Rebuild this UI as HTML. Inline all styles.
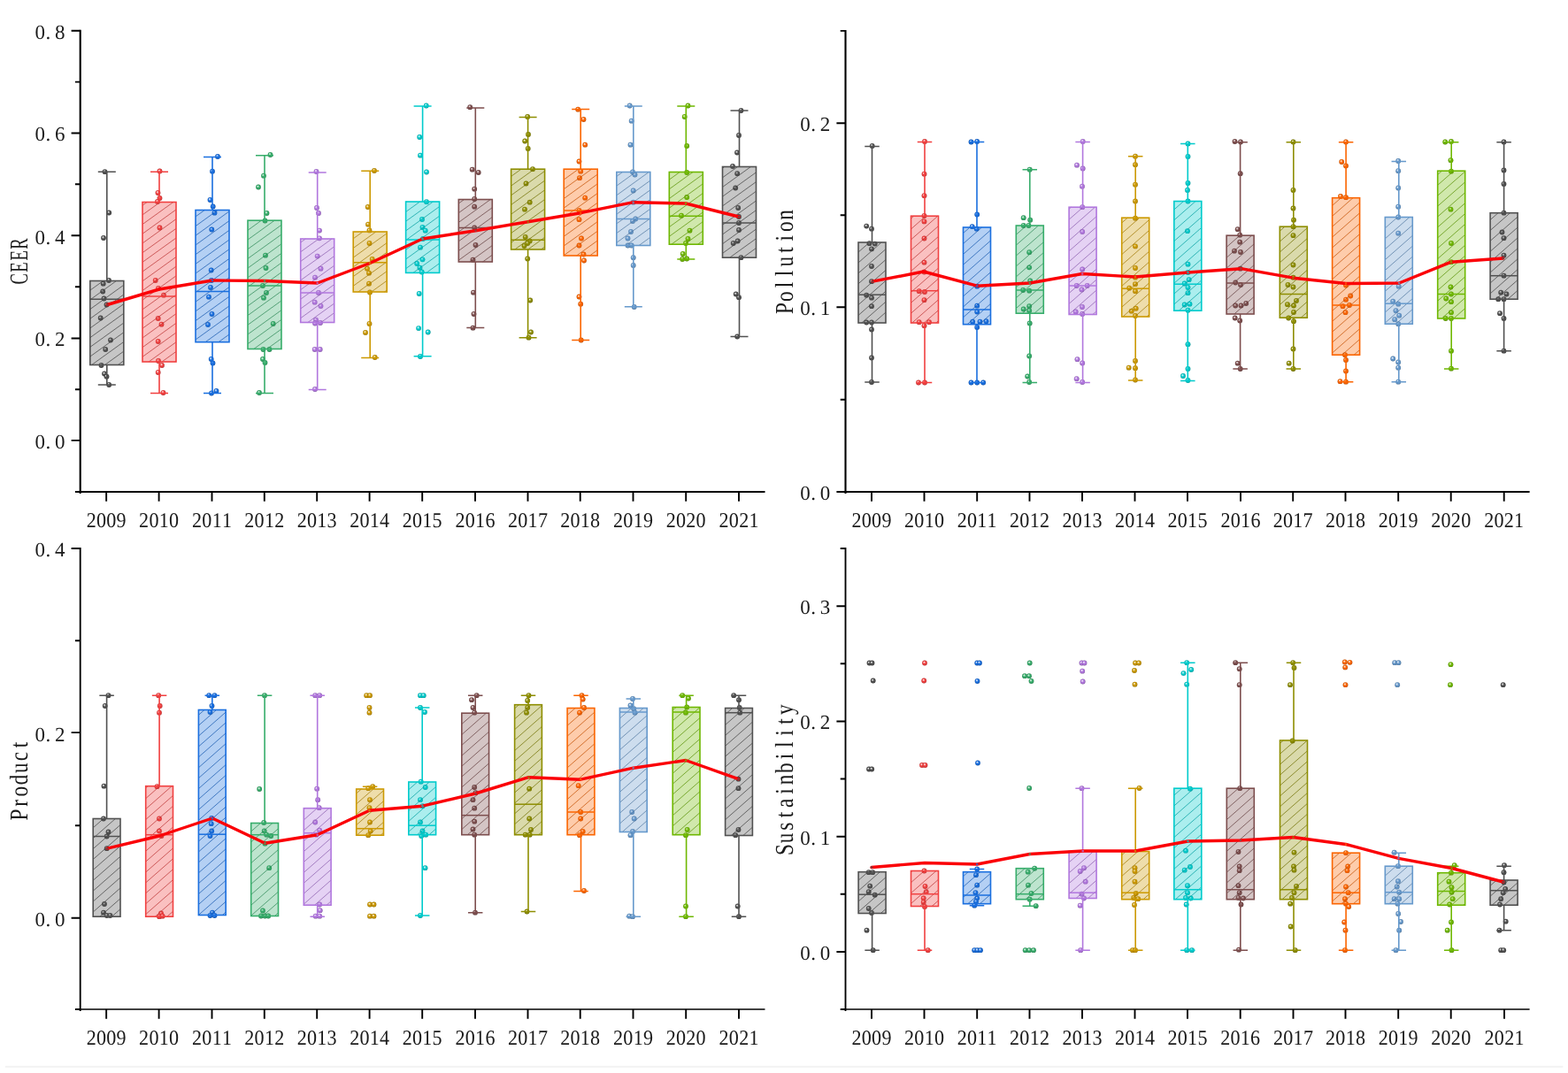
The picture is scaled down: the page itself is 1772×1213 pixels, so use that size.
<!DOCTYPE html>
<html lang="en"><head><meta charset="utf-8"><title>Box plots 2009-2021</title>
<style>html,body{margin:0;padding:0;background:#fff}body{width:1772px;height:1213px;overflow:hidden}svg{display:block}text{font-family:"Liberation Serif",serif;fill:#1a1a1a;text-rendering:geometricPrecision}</style>
</head><body>
<svg width="1772" height="1213" viewBox="0 0 1772 1213">
<defs>
<radialGradient id="g0" cx="0.5" cy="0.5" r="0.52" fx="0.36" fy="0.3"><stop offset="0" stop-color="#ffffff"/><stop offset="0.2" stop-color="#c2c2c2"/><stop offset="0.5" stop-color="#515151"/><stop offset="0.85" stop-color="#484848"/><stop offset="1" stop-color="#383838"/></radialGradient>
<radialGradient id="g1" cx="0.5" cy="0.5" r="0.52" fx="0.36" fy="0.3"><stop offset="0" stop-color="#ffffff"/><stop offset="0.2" stop-color="#fabcbc"/><stop offset="0.5" stop-color="#F14040"/><stop offset="0.85" stop-color="#d83939"/><stop offset="1" stop-color="#a82c2c"/></radialGradient>
<radialGradient id="g2" cx="0.5" cy="0.5" r="0.52" fx="0.36" fy="0.3"><stop offset="0" stop-color="#ffffff"/><stop offset="0.2" stop-color="#aeccf3"/><stop offset="0.5" stop-color="#1A6FDF"/><stop offset="0.85" stop-color="#1763c8"/><stop offset="1" stop-color="#124d9c"/></radialGradient>
<radialGradient id="g3" cx="0.5" cy="0.5" r="0.52" fx="0.36" fy="0.3"><stop offset="0" stop-color="#ffffff"/><stop offset="0.2" stop-color="#b9e2cb"/><stop offset="0.5" stop-color="#37AD6B"/><stop offset="0.85" stop-color="#319b60"/><stop offset="1" stop-color="#26794a"/></radialGradient>
<radialGradient id="g4" cx="0.5" cy="0.5" r="0.52" fx="0.36" fy="0.3"><stop offset="0" stop-color="#ffffff"/><stop offset="0.2" stop-color="#e3cff3"/><stop offset="0.5" stop-color="#B177DE"/><stop offset="0.85" stop-color="#9f6bc7"/><stop offset="1" stop-color="#7b539b"/></radialGradient>
<radialGradient id="g5" cx="0.5" cy="0.5" r="0.52" fx="0.36" fy="0.3"><stop offset="0" stop-color="#ffffff"/><stop offset="0.2" stop-color="#eddba5"/><stop offset="0.5" stop-color="#CC9900"/><stop offset="0.85" stop-color="#b78900"/><stop offset="1" stop-color="#8e6b00"/></radialGradient>
<radialGradient id="g6" cx="0.5" cy="0.5" r="0.52" fx="0.36" fy="0.3"><stop offset="0" stop-color="#ffffff"/><stop offset="0.2" stop-color="#a5eced"/><stop offset="0.5" stop-color="#00CBCC"/><stop offset="0.85" stop-color="#00b6b7"/><stop offset="1" stop-color="#008e8e"/></radialGradient>
<radialGradient id="g7" cx="0.5" cy="0.5" r="0.52" fx="0.36" fy="0.3"><stop offset="0" stop-color="#ffffff"/><stop offset="0.2" stop-color="#d1c1c1"/><stop offset="0.5" stop-color="#7D4E4E"/><stop offset="0.85" stop-color="#704646"/><stop offset="1" stop-color="#573636"/></radialGradient>
<radialGradient id="g8" cx="0.5" cy="0.5" r="0.52" fx="0.36" fy="0.3"><stop offset="0" stop-color="#ffffff"/><stop offset="0.2" stop-color="#d7d7a5"/><stop offset="0.5" stop-color="#8E8E00"/><stop offset="0.85" stop-color="#7f7f00"/><stop offset="1" stop-color="#636300"/></radialGradient>
<radialGradient id="g9" cx="0.5" cy="0.5" r="0.52" fx="0.36" fy="0.3"><stop offset="0" stop-color="#ffffff"/><stop offset="0.2" stop-color="#fdc9a6"/><stop offset="0.5" stop-color="#FB6501"/><stop offset="0.85" stop-color="#e15a00"/><stop offset="1" stop-color="#af4600"/></radialGradient>
<radialGradient id="g10" cx="0.5" cy="0.5" r="0.52" fx="0.36" fy="0.3"><stop offset="0" stop-color="#ffffff"/><stop offset="0.2" stop-color="#c9dbed"/><stop offset="0.5" stop-color="#6699CC"/><stop offset="0.85" stop-color="#5b89b7"/><stop offset="1" stop-color="#476b8e"/></radialGradient>
<radialGradient id="g11" cx="0.5" cy="0.5" r="0.52" fx="0.36" fy="0.3"><stop offset="0" stop-color="#ffffff"/><stop offset="0.2" stop-color="#cce6a6"/><stop offset="0.5" stop-color="#6FB802"/><stop offset="0.85" stop-color="#63a501"/><stop offset="1" stop-color="#4d8001"/></radialGradient>
</defs>
<rect width="1772" height="1213" fill="#ffffff"/>
<rect x="5.8" y="1204.9" width="1760.6" height="2" fill="#f3f3f3"/>
<g id="panel1">
<g fill="url(#g0)"><circle cx="118.5" cy="194.2" r="2.9"/><circle cx="123.2" cy="240.5" r="2.9"/><circle cx="117" cy="269" r="2.9"/><circle cx="116.7" cy="320.7" r="2.9"/><circle cx="123" cy="317" r="2.9"/><circle cx="116.2" cy="329.5" r="2.9"/><circle cx="117.5" cy="337.5" r="2.9"/><circle cx="120.5" cy="344.5" r="2.9"/><circle cx="113.7" cy="359.5" r="2.9"/><circle cx="125" cy="384.5" r="2.9"/><circle cx="119.2" cy="395" r="2.9"/><circle cx="114.5" cy="413" r="2.9"/><circle cx="118" cy="422.5" r="2.9"/><circle cx="120.5" cy="425.7" r="2.9"/><circle cx="123.2" cy="435" r="2.9"/></g>
<g fill="url(#g1)"><circle cx="180.5" cy="193.5" r="2.9"/><circle cx="178.5" cy="218" r="2.9"/><circle cx="180.5" cy="224" r="2.9"/><circle cx="178" cy="228" r="2.9"/><circle cx="180.5" cy="257.5" r="2.9"/><circle cx="175.7" cy="317" r="2.9"/><circle cx="179" cy="326" r="2.9"/><circle cx="185" cy="333.7" r="2.9"/><circle cx="178.7" cy="360" r="2.9"/><circle cx="182.5" cy="366.7" r="2.9"/><circle cx="178.7" cy="386" r="2.9"/><circle cx="179" cy="408" r="2.9"/><circle cx="183" cy="413" r="2.9"/><circle cx="178.7" cy="421" r="2.9"/><circle cx="184.5" cy="444" r="2.9"/></g>
<g fill="url(#g2)"><circle cx="246" cy="177" r="2.9"/><circle cx="240" cy="193.7" r="2.9"/><circle cx="237.5" cy="226" r="2.9"/><circle cx="240.7" cy="233.5" r="2.9"/><circle cx="242.5" cy="240.7" r="2.9"/><circle cx="239.3" cy="259.5" r="2.9"/><circle cx="238.7" cy="305.5" r="2.9"/><circle cx="239" cy="317" r="2.9"/><circle cx="238" cy="325" r="2.9"/><circle cx="236" cy="335.7" r="2.9"/><circle cx="239.5" cy="355" r="2.9"/><circle cx="235" cy="367" r="2.9"/><circle cx="238.7" cy="406" r="2.9"/><circle cx="240.5" cy="410.5" r="2.9"/><circle cx="239" cy="444.5" r="2.9"/><circle cx="244.5" cy="442" r="2.9"/></g>
<g fill="url(#g3)"><circle cx="305.5" cy="175" r="2.9"/><circle cx="298" cy="198.7" r="2.9"/><circle cx="292" cy="211.5" r="2.9"/><circle cx="301.5" cy="241" r="2.9"/><circle cx="299.5" cy="249.5" r="2.9"/><circle cx="300" cy="288.7" r="2.9"/><circle cx="300.5" cy="303" r="2.9"/><circle cx="297" cy="323" r="2.9"/><circle cx="301" cy="331" r="2.9"/><circle cx="298" cy="336.7" r="2.9"/><circle cx="308.7" cy="366" r="2.9"/><circle cx="297.5" cy="395" r="2.9"/><circle cx="304.5" cy="395" r="2.9"/><circle cx="297" cy="406" r="2.9"/><circle cx="299.5" cy="410" r="2.9"/><circle cx="293" cy="444" r="2.9"/></g>
<g fill="url(#g4)"><circle cx="357.5" cy="194" r="2.9"/><circle cx="358" cy="235" r="2.9"/><circle cx="360" cy="241" r="2.9"/><circle cx="361" cy="260.6" r="2.9"/><circle cx="361" cy="269.3" r="2.9"/><circle cx="358.7" cy="289.6" r="2.9"/><circle cx="362.5" cy="303.7" r="2.9"/><circle cx="356" cy="313.7" r="2.9"/><circle cx="360" cy="331" r="2.9"/><circle cx="355.7" cy="341.7" r="2.9"/><circle cx="362.5" cy="346" r="2.9"/><circle cx="357" cy="361.7" r="2.9"/><circle cx="356" cy="365.5" r="2.9"/><circle cx="362" cy="365" r="2.9"/><circle cx="355.7" cy="395" r="2.9"/><circle cx="361.7" cy="395" r="2.9"/><circle cx="356" cy="440" r="2.9"/></g>
<g fill="url(#g5)"><circle cx="423" cy="193" r="2.9"/><circle cx="415.7" cy="234" r="2.9"/><circle cx="416" cy="253.7" r="2.9"/><circle cx="417.5" cy="260.4" r="2.9"/><circle cx="417.5" cy="275" r="2.9"/><circle cx="420.7" cy="293" r="2.9"/><circle cx="415" cy="303.7" r="2.9"/><circle cx="417" cy="308.7" r="2.9"/><circle cx="417" cy="320.7" r="2.9"/><circle cx="418" cy="330.5" r="2.9"/><circle cx="417.5" cy="366" r="2.9"/><circle cx="413" cy="376" r="2.9"/><circle cx="423.7" cy="404" r="2.9"/></g>
<g fill="url(#g6)"><circle cx="481.7" cy="119.5" r="2.9"/><circle cx="474.2" cy="155" r="2.9"/><circle cx="475" cy="175.7" r="2.9"/><circle cx="482" cy="194.5" r="2.9"/><circle cx="482" cy="228.2" r="2.9"/><circle cx="477" cy="248" r="2.9"/><circle cx="477.5" cy="257" r="2.9"/><circle cx="480.7" cy="260.7" r="2.9"/><circle cx="478" cy="270" r="2.9"/><circle cx="475" cy="279.7" r="2.9"/><circle cx="477.5" cy="293.3" r="2.9"/><circle cx="471.2" cy="298" r="2.9"/><circle cx="474.5" cy="302.7" r="2.9"/><circle cx="476.7" cy="307.5" r="2.9"/><circle cx="473.7" cy="332" r="2.9"/><circle cx="473.1" cy="371.1" r="2.9"/><circle cx="483.7" cy="375.5" r="2.9"/><circle cx="475" cy="403" r="2.9"/></g>
<g fill="url(#g7)"><circle cx="531.2" cy="121.2" r="2.9"/><circle cx="533.7" cy="191.7" r="2.9"/><circle cx="540.7" cy="195" r="2.9"/><circle cx="536.2" cy="213.7" r="2.9"/><circle cx="536.2" cy="225" r="2.9"/><circle cx="536.2" cy="233.7" r="2.9"/><circle cx="536.2" cy="257.5" r="2.9"/><circle cx="537.5" cy="277" r="2.9"/><circle cx="534.5" cy="293.7" r="2.9"/><circle cx="535" cy="330.7" r="2.9"/><circle cx="535.5" cy="355" r="2.9"/><circle cx="534.5" cy="370.7" r="2.9"/></g>
<g fill="url(#g8)"><circle cx="596.2" cy="132" r="2.9"/><circle cx="597" cy="152" r="2.9"/><circle cx="593.2" cy="159.5" r="2.9"/><circle cx="596.7" cy="168" r="2.9"/><circle cx="602" cy="191.2" r="2.9"/><circle cx="594.5" cy="207.5" r="2.9"/><circle cx="598.7" cy="228.7" r="2.9"/><circle cx="593" cy="236.7" r="2.9"/><circle cx="593.7" cy="268" r="2.9"/><circle cx="598.7" cy="272.5" r="2.9"/><circle cx="596.2" cy="275" r="2.9"/><circle cx="592.5" cy="278" r="2.9"/><circle cx="596.2" cy="292.5" r="2.9"/><circle cx="599.2" cy="339.5" r="2.9"/><circle cx="600" cy="375.5" r="2.9"/><circle cx="597.5" cy="381.7" r="2.9"/></g>
<g fill="url(#g9)"><circle cx="653.2" cy="123.7" r="2.9"/><circle cx="659.5" cy="135" r="2.9"/><circle cx="661.2" cy="163.7" r="2.9"/><circle cx="654.5" cy="182.5" r="2.9"/><circle cx="656.2" cy="193.7" r="2.9"/><circle cx="655" cy="201.2" r="2.9"/><circle cx="661.2" cy="223.7" r="2.9"/><circle cx="654.5" cy="238" r="2.9"/><circle cx="654.5" cy="248.2" r="2.9"/><circle cx="657" cy="269.5" r="2.9"/><circle cx="654.5" cy="277.5" r="2.9"/><circle cx="659.5" cy="287.5" r="2.9"/><circle cx="660" cy="294.5" r="2.9"/><circle cx="654.5" cy="335.5" r="2.9"/><circle cx="656.2" cy="343.7" r="2.9"/><circle cx="656.7" cy="384.5" r="2.9"/></g>
<g fill="url(#g10)"><circle cx="711.7" cy="119.5" r="2.9"/><circle cx="713.7" cy="136.7" r="2.9"/><circle cx="712.5" cy="163.7" r="2.9"/><circle cx="715" cy="194.5" r="2.9"/><circle cx="717.5" cy="197.5" r="2.9"/><circle cx="715.7" cy="215.5" r="2.9"/><circle cx="715.7" cy="228.7" r="2.9"/><circle cx="718.2" cy="247.5" r="2.9"/><circle cx="715" cy="250" r="2.9"/><circle cx="713" cy="262" r="2.9"/><circle cx="709.5" cy="269.5" r="2.9"/><circle cx="709.5" cy="277.5" r="2.9"/><circle cx="713.7" cy="277.5" r="2.9"/><circle cx="715.7" cy="291.2" r="2.9"/><circle cx="715.7" cy="300" r="2.9"/><circle cx="716.7" cy="347" r="2.9"/></g>
<g fill="url(#g11)"><circle cx="777.5" cy="119.5" r="2.9"/><circle cx="773.7" cy="132" r="2.9"/><circle cx="776.2" cy="165" r="2.9"/><circle cx="776.2" cy="195" r="2.9"/><circle cx="776.2" cy="223" r="2.9"/><circle cx="770" cy="243.7" r="2.9"/><circle cx="779.5" cy="260.7" r="2.9"/><circle cx="777.5" cy="270" r="2.9"/><circle cx="775" cy="275" r="2.9"/><circle cx="771.7" cy="287" r="2.9"/><circle cx="776.2" cy="292.5" r="2.9"/><circle cx="771.2" cy="293" r="2.9"/></g>
<g fill="url(#g0)"><circle cx="837.5" cy="125" r="2.9"/><circle cx="835" cy="153" r="2.9"/><circle cx="833" cy="172.5" r="2.9"/><circle cx="828" cy="188" r="2.9"/><circle cx="833.2" cy="196.2" r="2.9"/><circle cx="831.2" cy="212.5" r="2.9"/><circle cx="834.2" cy="235" r="2.9"/><circle cx="835" cy="245" r="2.9"/><circle cx="835" cy="252" r="2.9"/><circle cx="835" cy="260" r="2.9"/><circle cx="833.7" cy="272.5" r="2.9"/><circle cx="828.7" cy="275" r="2.9"/><circle cx="837.5" cy="291.2" r="2.9"/><circle cx="831.7" cy="332.5" r="2.9"/><circle cx="835" cy="336.2" r="2.9"/><circle cx="833.2" cy="380.5" r="2.9"/></g>
<g stroke="#515151" fill="none"><path d="M120.8 317.5V194.2M110.8 194.2H130.8" stroke-width="1.6"/><path d="M120.8 412.5V435M110.8 435H130.8" stroke-width="1.6"/><rect x="101.8" y="317.5" width="38" height="95" fill="#515151" fill-opacity="0.33" stroke="none"/><path d="M101.8 328.2L116.66 317.5M101.8 338.9L131.52 317.5M101.8 349.6L139.8 322.24M101.8 360.3L139.8 332.94M101.8 371L139.8 343.64M101.8 381.7L139.8 354.34M101.8 392.4L139.8 365.04M101.8 403.1L139.8 375.74M103.61 412.5L139.8 386.44M118.47 412.5L139.8 397.14M133.33 412.5L139.8 407.84" stroke="#3f3f3f" stroke-width="0.8" stroke-opacity="0.9"/><rect x="101.8" y="317.5" width="38" height="95" stroke-width="1.6"/><path d="M101.8 338.2H139.8" stroke-width="1.5"/></g>
<g stroke="#F14040" fill="none"><path d="M180 228.5V194.2M170 194.2H190" stroke-width="1.6"/><path d="M180 409V444.5M170 444.5H190" stroke-width="1.6"/><rect x="161" y="228.5" width="38" height="180.5" fill="#F14040" fill-opacity="0.33" stroke="none"/><path d="M161 232.2L166.14 228.5M161 242.9L181 228.5M161 253.6L195.86 228.5M161 264.3L199 236.94M161 275L199 247.64M161 285.7L199 258.34M161 296.4L199 269.04M161 307.1L199 279.74M161 317.8L199 290.44M161 328.5L199 301.14M161 339.2L199 311.84M161 349.9L199 322.54M161 360.6L199 333.24M161 371.3L199 343.94M161 382L199 354.64M161 392.7L199 365.34M161 403.4L199 376.04M168.08 409L199 386.74M182.94 409L199 397.44M197.81 409L199 408.14" stroke="#bb3131" stroke-width="0.8" stroke-opacity="0.9"/><rect x="161" y="228.5" width="38" height="180.5" stroke-width="1.6"/><path d="M161 335H199" stroke-width="1.5"/></g>
<g stroke="#1A6FDF" fill="none"><path d="M240 237.5V177.5M230 177.5H250" stroke-width="1.6"/><path d="M240 386.7V444.5M230 444.5H250" stroke-width="1.6"/><rect x="221" y="237.5" width="38" height="149.2" fill="#1A6FDF" fill-opacity="0.33" stroke="none"/><path d="M221 244.9L231.28 237.5M221 255.6L246.14 237.5M221 266.3L259 238.94M221 277L259 249.64M221 287.7L259 260.34M221 298.4L259 271.04M221 309.1L259 281.74M221 319.8L259 292.44M221 330.5L259 303.14M221 341.2L259 313.84M221 351.9L259 324.54M221 362.6L259 335.24M221 373.3L259 345.94M221 384L259 356.64M232.11 386.7L259 367.34M246.97 386.7L259 378.04" stroke="#1456ad" stroke-width="0.8" stroke-opacity="0.9"/><rect x="221" y="237.5" width="38" height="149.2" stroke-width="1.6"/><path d="M221 329.5H259" stroke-width="1.5"/></g>
<g stroke="#37AD6B" fill="none"><path d="M299 249.2V175.7M289 175.7H309" stroke-width="1.6"/><path d="M299 394.5V444.5M289 444.5H309" stroke-width="1.6"/><rect x="280" y="249.2" width="38" height="145.3" fill="#37AD6B" fill-opacity="0.33" stroke="none"/><path d="M280 249.6L280.56 249.2M280 260.3L295.42 249.2M280 271L310.28 249.2M280 281.7L318 254.34M280 292.4L318 265.04M280 303.1L318 275.74M280 313.8L318 286.44M280 324.5L318 297.14M280 335.2L318 307.84M280 345.9L318 318.54M280 356.6L318 329.24M280 367.3L318 339.94M280 378L318 350.64M280 388.7L318 361.34M286.81 394.5L318 372.04M301.67 394.5L318 382.74M316.53 394.5L318 393.44" stroke="#2a8653" stroke-width="0.8" stroke-opacity="0.9"/><rect x="280" y="249.2" width="38" height="145.3" stroke-width="1.6"/><path d="M280 323H318" stroke-width="1.5"/></g>
<g stroke="#B177DE" fill="none"><path d="M358.7 270V195M348.7 195H368.7" stroke-width="1.6"/><path d="M358.7 364.5V440.5M348.7 440.5H368.7" stroke-width="1.6"/><rect x="339.7" y="270" width="38" height="94.5" fill="#B177DE" fill-opacity="0.33" stroke="none"/><path d="M339.7 274.1L345.39 270M339.7 284.8L360.26 270M339.7 295.5L375.12 270M339.7 306.2L377.7 278.84M339.7 316.9L377.7 289.54M339.7 327.6L377.7 300.24M339.7 338.3L377.7 310.94M339.7 349L377.7 321.64M339.7 359.7L377.7 332.34M347.89 364.5L377.7 343.04M362.76 364.5L377.7 353.74" stroke="#8a5cad" stroke-width="0.8" stroke-opacity="0.9"/><rect x="339.7" y="270" width="38" height="94.5" stroke-width="1.6"/><path d="M339.7 331H377.7" stroke-width="1.5"/></g>
<g stroke="#CC9900" fill="none"><path d="M418.2 262V193.2M408.2 193.2H428.2" stroke-width="1.6"/><path d="M418.2 330V404.5M408.2 404.5H428.2" stroke-width="1.6"/><rect x="399.2" y="262" width="38" height="68" fill="#CC9900" fill-opacity="0.33" stroke="none"/><path d="M399.2 269.8L410.03 262M399.2 280.5L424.89 262M399.2 291.2L437.2 263.84M399.2 301.9L437.2 274.54M399.2 312.6L437.2 285.24M399.2 323.3L437.2 295.94M404.76 330L437.2 306.64M419.62 330L437.2 317.34M434.48 330L437.2 328.04" stroke="#9f7700" stroke-width="0.8" stroke-opacity="0.9"/><rect x="399.2" y="262" width="38" height="68" stroke-width="1.6"/><path d="M399.2 296.7H437.2" stroke-width="1.5"/></g>
<g stroke="#00CBCC" fill="none"><path d="M477.6 228V120M467.6 120H487.6" stroke-width="1.6"/><path d="M477.6 308.4V402.7M467.6 402.7H487.6" stroke-width="1.6"/><rect x="458.6" y="228" width="38" height="80.4" fill="#00CBCC" fill-opacity="0.33" stroke="none"/><path d="M458.6 228.8L459.71 228M458.6 239.5L474.57 228M458.6 250.2L489.43 228M458.6 260.9L496.6 233.54M458.6 271.6L496.6 244.24M458.6 282.3L496.6 254.94M458.6 293L496.6 265.64M458.6 303.7L496.6 276.34M466.93 308.4L496.6 287.04M481.79 308.4L496.6 297.74" stroke="#009e9f" stroke-width="0.8" stroke-opacity="0.9"/><rect x="458.6" y="228" width="38" height="80.4" stroke-width="1.6"/><path d="M458.6 271H496.6" stroke-width="1.5"/></g>
<g stroke="#7D4E4E" fill="none"><path d="M537.3 225.5V122M527.3 122H547.3" stroke-width="1.6"/><path d="M537.3 296V370.5M527.3 370.5H547.3" stroke-width="1.6"/><rect x="518.3" y="225.5" width="38" height="70.5" fill="#7D4E4E" fill-opacity="0.33" stroke="none"/><path d="M518.3 230L524.55 225.5M518.3 240.7L539.41 225.5M518.3 251.4L554.27 225.5M518.3 262.1L556.3 234.74M518.3 272.8L556.3 245.44M518.3 283.5L556.3 256.14M518.3 294.2L556.3 266.84M530.66 296L556.3 277.54M545.52 296L556.3 288.24" stroke="#613c3c" stroke-width="0.8" stroke-opacity="0.9"/><rect x="518.3" y="225.5" width="38" height="70.5" stroke-width="1.6"/><path d="M518.3 257.5H556.3" stroke-width="1.5"/></g>
<g stroke="#8E8E00" fill="none"><path d="M596.6 191.2V132.5M586.6 132.5H606.6" stroke-width="1.6"/><path d="M596.6 282V381.7M586.6 381.7H606.6" stroke-width="1.6"/><rect x="577.6" y="191.2" width="38" height="90.8" fill="#8E8E00" fill-opacity="0.33" stroke="none"/><path d="M577.6 199.4L588.99 191.2M577.6 210.1L603.85 191.2M577.6 220.8L615.6 193.44M577.6 231.5L615.6 204.14M577.6 242.2L615.6 214.84M577.6 252.9L615.6 225.54M577.6 263.6L615.6 236.24M577.6 274.3L615.6 246.94M581.77 282L615.6 257.64M596.63 282L615.6 268.34M611.49 282L615.6 279.04" stroke="#6e6e00" stroke-width="0.8" stroke-opacity="0.9"/><rect x="577.6" y="191.2" width="38" height="90.8" stroke-width="1.6"/><path d="M577.6 271.2H615.6" stroke-width="1.5"/></g>
<g stroke="#FB6501" fill="none"><path d="M656.2 191.2V123.5M646.2 123.5H666.2" stroke-width="1.6"/><path d="M656.2 289V384.5M646.2 384.5H666.2" stroke-width="1.6"/><rect x="637.2" y="191.2" width="38" height="97.8" fill="#FB6501" fill-opacity="0.33" stroke="none"/><path d="M637.2 192.4L638.87 191.2M637.2 203.1L653.73 191.2M637.2 213.8L668.59 191.2M637.2 224.5L675.2 197.14M637.2 235.2L675.2 207.84M637.2 245.9L675.2 218.54M637.2 256.6L675.2 229.24M637.2 267.3L675.2 239.94M637.2 278L675.2 250.64M637.2 288.7L675.2 261.34M651.64 289L675.2 272.04M666.51 289L675.2 282.74" stroke="#c34e00" stroke-width="0.8" stroke-opacity="0.9"/><rect x="637.2" y="191.2" width="38" height="97.8" stroke-width="1.6"/><path d="M637.2 238H675.2" stroke-width="1.5"/></g>
<g stroke="#6699CC" fill="none"><path d="M715.8 194.5V120M705.8 120H725.8" stroke-width="1.6"/><path d="M715.8 277.5V346.7M705.8 346.7H725.8" stroke-width="1.6"/><rect x="696.8" y="194.5" width="38" height="83" fill="#6699CC" fill-opacity="0.33" stroke="none"/><path d="M696.8 199.4L703.61 194.5M696.8 210.1L718.47 194.5M696.8 220.8L733.33 194.5M696.8 231.5L734.8 204.14M696.8 242.2L734.8 214.84M696.8 252.9L734.8 225.54M696.8 263.6L734.8 236.24M696.8 274.3L734.8 246.94M707.22 277.5L734.8 257.64M722.08 277.5L734.8 268.34" stroke="#4f779f" stroke-width="0.8" stroke-opacity="0.9"/><rect x="696.8" y="194.5" width="38" height="83" stroke-width="1.6"/><path d="M696.8 247.5H734.8" stroke-width="1.5"/></g>
<g stroke="#6FB802" fill="none"><path d="M775.3 194.5V120M765.3 120H785.3" stroke-width="1.6"/><path d="M775.3 276.2V293M765.3 293H785.3" stroke-width="1.6"/><rect x="756.3" y="194.5" width="38" height="81.7" fill="#6FB802" fill-opacity="0.33" stroke="none"/><path d="M756.3 203.1L768.24 194.5M756.3 213.8L783.11 194.5M756.3 224.5L794.3 197.14M756.3 235.2L794.3 207.84M756.3 245.9L794.3 218.54M756.3 256.6L794.3 229.24M756.3 267.3L794.3 239.94M758.8 276.2L794.3 250.64M773.66 276.2L794.3 261.34M788.52 276.2L794.3 272.04" stroke="#568f01" stroke-width="0.8" stroke-opacity="0.9"/><rect x="756.3" y="194.5" width="38" height="81.7" stroke-width="1.6"/><path d="M756.3 244.2H794.3" stroke-width="1.5"/></g>
<g stroke="#515151" fill="none"><path d="M835.5 188.5V125M825.5 125H845.5" stroke-width="1.6"/><path d="M835.5 291.2V380.5M825.5 380.5H845.5" stroke-width="1.6"/><rect x="816.5" y="188.5" width="38" height="102.7" fill="#515151" fill-opacity="0.33" stroke="none"/><path d="M816.5 190.1L818.72 188.5M816.5 200.8L833.58 188.5M816.5 211.5L848.44 188.5M816.5 222.2L854.5 194.84M816.5 232.9L854.5 205.54M816.5 243.6L854.5 216.24M816.5 254.3L854.5 226.94M816.5 265L854.5 237.64M816.5 275.7L854.5 248.34M816.5 286.4L854.5 259.04M824.69 291.2L854.5 269.74M839.56 291.2L854.5 280.44" stroke="#3f3f3f" stroke-width="0.8" stroke-opacity="0.9"/><rect x="816.5" y="188.5" width="38" height="102.7" stroke-width="1.6"/><path d="M816.5 252H854.5" stroke-width="1.5"/></g>
<polyline points="121.2,344.5 180,327 240,317 299,317.5 358.7,320 418,297.5 477.5,270 537.5,260.7 596.7,250.7 656.2,240.7 715.7,228.7 775,230 835,245" fill="none" stroke="#fb0007" stroke-width="3.4" stroke-linejoin="round" stroke-linecap="round"/>
<g><circle cx="121.2" cy="344.5" r="1.3" fill="#515151" fill-opacity="0.75"/><circle cx="240" cy="317" r="1.3" fill="#1A6FDF" fill-opacity="0.75"/><circle cx="299" cy="317.5" r="1.3" fill="#37AD6B" fill-opacity="0.75"/><circle cx="358.7" cy="320" r="1.3" fill="#B177DE" fill-opacity="0.75"/><circle cx="418" cy="297.5" r="1.3" fill="#CC9900" fill-opacity="0.75"/><circle cx="477.5" cy="270" r="1.3" fill="#00CBCC" fill-opacity="0.75"/><circle cx="537.5" cy="260.7" r="1.3" fill="#7D4E4E" fill-opacity="0.75"/><circle cx="596.7" cy="250.7" r="1.3" fill="#8E8E00" fill-opacity="0.75"/><circle cx="656.2" cy="240.7" r="1.3" fill="#FB6501" fill-opacity="0.75"/><circle cx="715.7" cy="228.7" r="1.3" fill="#6699CC" fill-opacity="0.75"/><circle cx="775" cy="230" r="1.3" fill="#6FB802" fill-opacity="0.75"/><circle cx="835" cy="245" r="1.3" fill="#515151" fill-opacity="0.75"/></g>
<g stroke="#000" fill="none"><path d="M90.7 33.75V557.9" stroke-width="2.1"/><path d="M89.65 556H864.5" stroke-width="2.1"/><path d="M90.7 34.7H80.6M90.7 150.45H80.6M90.7 266.2H80.6M90.7 382.45H80.6M90.7 497.9H80.6M90.7 92.6H84.9M90.7 208.3H84.9M90.7 324.3H84.9M90.7 440.2H84.9M90.7 556H84.9M120.15 556V566.7M179.6 556V566.7M239.5 556V566.7M298.8 556V566.7M358.2 556V566.7M417.6 556V566.7M477.2 556V566.7M537 556V566.7M596.5 556V566.7M655.7 556V566.7M715.5 556V566.7M775.2 556V566.7M835 556V566.7" stroke-width="1.9"/></g>
<text x="45.15 54.35 67.8" y="43.7" font-size="23" text-anchor="middle">0.8</text>
<text x="45.15 54.35 67.8" y="159.4" font-size="23" text-anchor="middle">0.6</text>
<text x="45.15 54.35 67.8" y="276.4" font-size="23" text-anchor="middle">0.4</text>
<text x="45.15 54.35 67.8" y="391.4" font-size="23" text-anchor="middle">0.2</text>
<text x="45.15 54.35 67.8" y="506.8" font-size="23" text-anchor="middle">0.0</text>
<text transform="scale(0.9200,1)" x="112.17 124.46 136.74 149.02" y="595.6" font-size="24" text-anchor="middle">2009</text>
<text transform="scale(0.9200,1)" x="176.79 189.08 201.36 213.64" y="595.6" font-size="24" text-anchor="middle">2010</text>
<text transform="scale(0.9200,1)" x="241.9 254.18 266.47 278.75" y="595.6" font-size="24" text-anchor="middle">2011</text>
<text transform="scale(0.9200,1)" x="306.36 318.64 330.92 343.21" y="595.6" font-size="24" text-anchor="middle">2012</text>
<text transform="scale(0.9200,1)" x="370.92 383.21 395.49 407.77" y="595.6" font-size="24" text-anchor="middle">2013</text>
<text transform="scale(0.9200,1)" x="435.49 447.77 460.05 472.34" y="595.6" font-size="24" text-anchor="middle">2014</text>
<text transform="scale(0.9200,1)" x="500.27 512.55 524.84 537.12" y="595.6" font-size="24" text-anchor="middle">2015</text>
<text transform="scale(0.9200,1)" x="565.27 577.55 589.84 602.12" y="595.6" font-size="24" text-anchor="middle">2016</text>
<text transform="scale(0.9200,1)" x="629.95 642.23 654.51 666.79" y="595.6" font-size="24" text-anchor="middle">2017</text>
<text transform="scale(0.9200,1)" x="694.29 706.58 718.86 731.14" y="595.6" font-size="24" text-anchor="middle">2018</text>
<text transform="scale(0.9200,1)" x="759.29 771.58 783.86 796.14" y="595.6" font-size="24" text-anchor="middle">2019</text>
<text transform="scale(0.9200,1)" x="824.18 836.47 848.75 861.03" y="595.6" font-size="24" text-anchor="middle">2020</text>
<text transform="scale(0.9200,1)" x="889.18 901.47 913.75 926.03" y="595.6" font-size="24" text-anchor="middle">2021</text>
<text transform="translate(30.6,295.4) rotate(-90) scale(0.6400,1)" x="-30.94 -10.31 10.31 30.94" y="0" font-size="29" text-anchor="middle">CEER</text>
</g>
<g id="panel2">
<g fill="url(#g0)"><circle cx="985.7" cy="165" r="2.9"/><circle cx="979.2" cy="255.6" r="2.9"/><circle cx="985" cy="258.7" r="2.9"/><circle cx="982.5" cy="275.2" r="2.9"/><circle cx="988.7" cy="275.6" r="2.9"/><circle cx="985" cy="281.4" r="2.9"/><circle cx="985" cy="301" r="2.9"/><circle cx="985" cy="318.2" r="2.9"/><circle cx="979.2" cy="333.7" r="2.9"/><circle cx="985" cy="336.7" r="2.9"/><circle cx="985" cy="346.2" r="2.9"/><circle cx="979.2" cy="364.5" r="2.9"/><circle cx="985" cy="364.5" r="2.9"/><circle cx="985" cy="372.5" r="2.9"/><circle cx="985" cy="404.5" r="2.9"/><circle cx="985" cy="432" r="2.9"/></g>
<g fill="url(#g1)"><circle cx="1045" cy="160" r="2.9"/><circle cx="1044.5" cy="196.7" r="2.9"/><circle cx="1044.5" cy="221.2" r="2.9"/><circle cx="1044.5" cy="244" r="2.9"/><circle cx="1044.5" cy="250.4" r="2.9"/><circle cx="1044.5" cy="269.5" r="2.9"/><circle cx="1044.5" cy="296.7" r="2.9"/><circle cx="1044.5" cy="307.5" r="2.9"/><circle cx="1038.7" cy="329.2" r="2.9"/><circle cx="1045" cy="330" r="2.9"/><circle cx="1044.5" cy="339.2" r="2.9"/><circle cx="1038.7" cy="364.2" r="2.9"/><circle cx="1050" cy="364.2" r="2.9"/><circle cx="1044.5" cy="368.2" r="2.9"/><circle cx="1038" cy="432.5" r="2.9"/><circle cx="1045" cy="432.5" r="2.9"/></g>
<g fill="url(#g2)"><circle cx="1097.5" cy="160.5" r="2.9"/><circle cx="1104.2" cy="160" r="2.9"/><circle cx="1104.2" cy="242.5" r="2.9"/><circle cx="1098.7" cy="256.2" r="2.9"/><circle cx="1103.7" cy="258.7" r="2.9"/><circle cx="1104.2" cy="323.7" r="2.9"/><circle cx="1104.2" cy="345.7" r="2.9"/><circle cx="1104.2" cy="352.5" r="2.9"/><circle cx="1099.2" cy="363.7" r="2.9"/><circle cx="1107.5" cy="363.7" r="2.9"/><circle cx="1114.5" cy="363.2" r="2.9"/><circle cx="1104.2" cy="370" r="2.9"/><circle cx="1097.5" cy="432.5" r="2.9"/><circle cx="1104.2" cy="432.5" r="2.9"/><circle cx="1111.2" cy="432.5" r="2.9"/></g>
<g fill="url(#g3)"><circle cx="1163.7" cy="191.7" r="2.9"/><circle cx="1156.7" cy="246.2" r="2.9"/><circle cx="1164.2" cy="248.7" r="2.9"/><circle cx="1156.7" cy="255" r="2.9"/><circle cx="1162.5" cy="255" r="2.9"/><circle cx="1163.2" cy="285.2" r="2.9"/><circle cx="1163.2" cy="302.3" r="2.9"/><circle cx="1164.2" cy="317.5" r="2.9"/><circle cx="1156.2" cy="328" r="2.9"/><circle cx="1163.2" cy="328.7" r="2.9"/><circle cx="1163.2" cy="346.2" r="2.9"/><circle cx="1156.7" cy="349.5" r="2.9"/><circle cx="1163.2" cy="351.2" r="2.9"/><circle cx="1163.7" cy="365.5" r="2.9"/><circle cx="1163.2" cy="402.5" r="2.9"/><circle cx="1161.2" cy="425.5" r="2.9"/><circle cx="1163.2" cy="432" r="2.9"/></g>
<g fill="url(#g4)"><circle cx="1223.7" cy="160" r="2.9"/><circle cx="1217" cy="186.7" r="2.9"/><circle cx="1223.7" cy="190.5" r="2.9"/><circle cx="1223" cy="210.7" r="2.9"/><circle cx="1223.2" cy="234.2" r="2.9"/><circle cx="1223.2" cy="262" r="2.9"/><circle cx="1223.2" cy="304.5" r="2.9"/><circle cx="1216.7" cy="323" r="2.9"/><circle cx="1228.7" cy="323" r="2.9"/><circle cx="1222.5" cy="327.5" r="2.9"/><circle cx="1223" cy="347" r="2.9"/><circle cx="1215.7" cy="352.5" r="2.9"/><circle cx="1223.2" cy="355" r="2.9"/><circle cx="1217.5" cy="406.2" r="2.9"/><circle cx="1223.2" cy="410.5" r="2.9"/><circle cx="1216.7" cy="428.2" r="2.9"/><circle cx="1223.2" cy="432" r="2.9"/></g>
<g fill="url(#g5)"><circle cx="1283" cy="176.7" r="2.9"/><circle cx="1283" cy="186.2" r="2.9"/><circle cx="1283" cy="208.7" r="2.9"/><circle cx="1283" cy="227.5" r="2.9"/><circle cx="1283" cy="246.7" r="2.9"/><circle cx="1283" cy="278.4" r="2.9"/><circle cx="1283" cy="303" r="2.9"/><circle cx="1283" cy="313.7" r="2.9"/><circle cx="1283" cy="321.2" r="2.9"/><circle cx="1276.2" cy="325.7" r="2.9"/><circle cx="1283" cy="329.2" r="2.9"/><circle cx="1283.7" cy="348.7" r="2.9"/><circle cx="1278.7" cy="351.7" r="2.9"/><circle cx="1283" cy="357" r="2.9"/><circle cx="1283" cy="408" r="2.9"/><circle cx="1275.7" cy="415.7" r="2.9"/><circle cx="1283" cy="416.2" r="2.9"/><circle cx="1283" cy="429.5" r="2.9"/></g>
<g fill="url(#g6)"><circle cx="1342.5" cy="162.5" r="2.9"/><circle cx="1342.5" cy="177" r="2.9"/><circle cx="1342.5" cy="207" r="2.9"/><circle cx="1342" cy="215" r="2.9"/><circle cx="1342.5" cy="227.5" r="2.9"/><circle cx="1342" cy="261.2" r="2.9"/><circle cx="1342.5" cy="298.7" r="2.9"/><circle cx="1342.5" cy="308" r="2.9"/><circle cx="1343.7" cy="316.2" r="2.9"/><circle cx="1338.7" cy="320.5" r="2.9"/><circle cx="1342.5" cy="325" r="2.9"/><circle cx="1342.5" cy="331.2" r="2.9"/><circle cx="1338.7" cy="344.5" r="2.9"/><circle cx="1344.5" cy="343.7" r="2.9"/><circle cx="1342.5" cy="350.7" r="2.9"/><circle cx="1342.5" cy="389.2" r="2.9"/><circle cx="1342.5" cy="417" r="2.9"/><circle cx="1337" cy="425" r="2.9"/><circle cx="1342.5" cy="430" r="2.9"/></g>
<g fill="url(#g7)"><circle cx="1395.5" cy="160" r="2.9"/><circle cx="1402" cy="160.5" r="2.9"/><circle cx="1401.7" cy="196.2" r="2.9"/><circle cx="1398.7" cy="259.2" r="2.9"/><circle cx="1401.2" cy="265.7" r="2.9"/><circle cx="1401.2" cy="273.7" r="2.9"/><circle cx="1395" cy="283.7" r="2.9"/><circle cx="1402" cy="285" r="2.9"/><circle cx="1401.7" cy="303.7" r="2.9"/><circle cx="1396.2" cy="319.5" r="2.9"/><circle cx="1402" cy="322" r="2.9"/><circle cx="1408.2" cy="343" r="2.9"/><circle cx="1396.2" cy="345.5" r="2.9"/><circle cx="1402.5" cy="345.5" r="2.9"/><circle cx="1395.7" cy="359.5" r="2.9"/><circle cx="1401.2" cy="362.5" r="2.9"/><circle cx="1398.7" cy="410.7" r="2.9"/><circle cx="1401.7" cy="417" r="2.9"/></g>
<g fill="url(#g8)"><circle cx="1461.5" cy="160.5" r="2.9"/><circle cx="1461.5" cy="215" r="2.9"/><circle cx="1461.5" cy="235.5" r="2.9"/><circle cx="1462" cy="248.7" r="2.9"/><circle cx="1461.5" cy="256.2" r="2.9"/><circle cx="1461.5" cy="266.2" r="2.9"/><circle cx="1461.5" cy="299.5" r="2.9"/><circle cx="1461.5" cy="313.7" r="2.9"/><circle cx="1455.5" cy="322" r="2.9"/><circle cx="1461.5" cy="324.5" r="2.9"/><circle cx="1465" cy="340" r="2.9"/><circle cx="1455" cy="344.2" r="2.9"/><circle cx="1462" cy="345.5" r="2.9"/><circle cx="1462" cy="353" r="2.9"/><circle cx="1456.2" cy="359.5" r="2.9"/><circle cx="1462" cy="363.2" r="2.9"/><circle cx="1461.5" cy="394.5" r="2.9"/><circle cx="1456.7" cy="410.7" r="2.9"/><circle cx="1461.5" cy="417" r="2.9"/></g>
<g fill="url(#g9)"><circle cx="1521" cy="160.5" r="2.9"/><circle cx="1516.2" cy="183" r="2.9"/><circle cx="1521" cy="187.5" r="2.9"/><circle cx="1515" cy="222" r="2.9"/><circle cx="1521" cy="223.2" r="2.9"/><circle cx="1521" cy="322.5" r="2.9"/><circle cx="1526.2" cy="334.5" r="2.9"/><circle cx="1521" cy="338.7" r="2.9"/><circle cx="1517.5" cy="346.2" r="2.9"/><circle cx="1525" cy="345" r="2.9"/><circle cx="1520.5" cy="353.2" r="2.9"/><circle cx="1520" cy="401.2" r="2.9"/><circle cx="1521" cy="407" r="2.9"/><circle cx="1521" cy="419.5" r="2.9"/><circle cx="1514.5" cy="431.2" r="2.9"/><circle cx="1521" cy="431.7" r="2.9"/></g>
<g fill="url(#g10)"><circle cx="1580.2" cy="182" r="2.9"/><circle cx="1580.2" cy="193.2" r="2.9"/><circle cx="1580.2" cy="212.5" r="2.9"/><circle cx="1580.2" cy="233.7" r="2.9"/><circle cx="1580.2" cy="245.5" r="2.9"/><circle cx="1580.2" cy="263.7" r="2.9"/><circle cx="1580.7" cy="323.7" r="2.9"/><circle cx="1574.2" cy="340.7" r="2.9"/><circle cx="1580.2" cy="343.7" r="2.9"/><circle cx="1577.5" cy="351.2" r="2.9"/><circle cx="1581.2" cy="356.7" r="2.9"/><circle cx="1576.2" cy="361.2" r="2.9"/><circle cx="1580.2" cy="366.2" r="2.9"/><circle cx="1574.2" cy="405.5" r="2.9"/><circle cx="1580.2" cy="409.5" r="2.9"/><circle cx="1580.2" cy="415.7" r="2.9"/><circle cx="1580.2" cy="431.7" r="2.9"/></g>
<g fill="url(#g11)"><circle cx="1633.2" cy="160.5" r="2.9"/><circle cx="1640" cy="160" r="2.9"/><circle cx="1639.5" cy="181.2" r="2.9"/><circle cx="1640" cy="193.7" r="2.9"/><circle cx="1639.5" cy="236.7" r="2.9"/><circle cx="1640" cy="275" r="2.9"/><circle cx="1640" cy="296.2" r="2.9"/><circle cx="1639.5" cy="324.5" r="2.9"/><circle cx="1640" cy="332.5" r="2.9"/><circle cx="1634.2" cy="337.5" r="2.9"/><circle cx="1640" cy="341.2" r="2.9"/><circle cx="1640" cy="353.2" r="2.9"/><circle cx="1633.7" cy="360" r="2.9"/><circle cx="1640" cy="360" r="2.9"/><circle cx="1640" cy="396.7" r="2.9"/><circle cx="1640" cy="416.7" r="2.9"/></g>
<g fill="url(#g0)"><circle cx="1699.5" cy="160.5" r="2.9"/><circle cx="1699.5" cy="192.5" r="2.9"/><circle cx="1699.5" cy="208" r="2.9"/><circle cx="1699.5" cy="240.7" r="2.9"/><circle cx="1697.5" cy="262.5" r="2.9"/><circle cx="1699.5" cy="269.2" r="2.9"/><circle cx="1699.5" cy="288.7" r="2.9"/><circle cx="1699.5" cy="311.7" r="2.9"/><circle cx="1696.2" cy="330.7" r="2.9"/><circle cx="1702.5" cy="332.5" r="2.9"/><circle cx="1693.2" cy="338.2" r="2.9"/><circle cx="1699.5" cy="338.2" r="2.9"/><circle cx="1695" cy="354.2" r="2.9"/><circle cx="1699.5" cy="360" r="2.9"/><circle cx="1699.5" cy="396.7" r="2.9"/></g>
<g stroke="#515151" fill="none"><path d="M985.5 274V165.5M977.25 165.5H993.75" stroke-width="1.6"/><path d="M985.5 365V432M977.25 432H993.75" stroke-width="1.6"/><rect x="970" y="274" width="31" height="91" fill="#515151" fill-opacity="0.33" stroke="none"/><path d="M970 285.1L982.61 274M970 297L996.14 274M970 308.9L1001 281.62M970 320.8L1001 293.52M970 332.7L1001 305.42M970 344.6L1001 317.32M970 356.5L1001 329.22M973.86 365L1001 341.12M987.39 365L1001 353.02" stroke="#3f3f3f" stroke-width="0.8" stroke-opacity="0.9"/><rect x="970" y="274" width="31" height="91" stroke-width="1.6"/><path d="M970 333.2H1001" stroke-width="1.5"/></g>
<g stroke="#F14040" fill="none"><path d="M1045 244.2V160.5M1036.75 160.5H1053.25" stroke-width="1.6"/><path d="M1045 365V432.5M1036.75 432.5H1053.25" stroke-width="1.6"/><rect x="1029.5" y="244.2" width="31" height="120.8" fill="#F14040" fill-opacity="0.33" stroke="none"/><path d="M1029.5 247.1L1032.8 244.2M1029.5 259L1046.32 244.2M1029.5 270.9L1059.84 244.2M1029.5 282.8L1060.5 255.52M1029.5 294.7L1060.5 267.42M1029.5 306.6L1060.5 279.32M1029.5 318.5L1060.5 291.22M1029.5 330.4L1060.5 303.12M1029.5 342.3L1060.5 315.02M1029.5 354.2L1060.5 326.92M1030.75 365L1060.5 338.82M1044.27 365L1060.5 350.72M1057.8 365L1060.5 362.62" stroke="#bb3131" stroke-width="0.8" stroke-opacity="0.9"/><rect x="1029.5" y="244.2" width="31" height="120.8" stroke-width="1.6"/><path d="M1029.5 328.7H1060.5" stroke-width="1.5"/></g>
<g stroke="#1A6FDF" fill="none"><path d="M1104 257V160.5M1095.75 160.5H1112.25" stroke-width="1.6"/><path d="M1104 366.7V432.5M1095.75 432.5H1112.25" stroke-width="1.6"/><rect x="1088.5" y="257" width="31" height="109.7" fill="#1A6FDF" fill-opacity="0.33" stroke="none"/><path d="M1088.5 263.6L1096 257M1088.5 275.5L1109.52 257M1088.5 287.4L1119.5 260.12M1088.5 299.3L1119.5 272.02M1088.5 311.2L1119.5 283.92M1088.5 323.1L1119.5 295.82M1088.5 335L1119.5 307.72M1088.5 346.9L1119.5 319.62M1088.5 358.8L1119.5 331.52M1093.05 366.7L1119.5 343.42M1106.57 366.7L1119.5 355.32" stroke="#1456ad" stroke-width="0.8" stroke-opacity="0.9"/><rect x="1088.5" y="257" width="31" height="109.7" stroke-width="1.6"/><path d="M1088.5 350H1119.5" stroke-width="1.5"/></g>
<g stroke="#37AD6B" fill="none"><path d="M1163.8 255V191.7M1155.55 191.7H1172.05" stroke-width="1.6"/><path d="M1163.8 354.2V432.5M1155.55 432.5H1172.05" stroke-width="1.6"/><rect x="1148.3" y="255" width="31" height="99.2" fill="#37AD6B" fill-opacity="0.33" stroke="none"/><path d="M1148.3 265.3L1160 255M1148.3 277.2L1173.53 255M1148.3 289.1L1179.3 261.82M1148.3 301L1179.3 273.72M1148.3 312.9L1179.3 285.62M1148.3 324.8L1179.3 297.52M1148.3 336.7L1179.3 309.42M1148.3 348.6L1179.3 321.32M1155.46 354.2L1179.3 333.22M1168.98 354.2L1179.3 345.12" stroke="#2a8653" stroke-width="0.8" stroke-opacity="0.9"/><rect x="1148.3" y="255" width="31" height="99.2" stroke-width="1.6"/><path d="M1148.3 328H1179.3" stroke-width="1.5"/></g>
<g stroke="#B177DE" fill="none"><path d="M1223.6 234.2V160.5M1215.35 160.5H1231.85" stroke-width="1.6"/><path d="M1223.6 355.5V432.5M1215.35 432.5H1231.85" stroke-width="1.6"/><rect x="1208.1" y="234.2" width="31" height="121.3" fill="#B177DE" fill-opacity="0.33" stroke="none"/><path d="M1208.1 236.3L1210.49 234.2M1208.1 248.2L1224.01 234.2M1208.1 260.1L1237.53 234.2M1208.1 272L1239.1 244.72M1208.1 283.9L1239.1 256.62M1208.1 295.8L1239.1 268.52M1208.1 307.7L1239.1 280.42M1208.1 319.6L1239.1 292.32M1208.1 331.5L1239.1 304.22M1208.1 343.4L1239.1 316.12M1208.1 355.3L1239.1 328.02M1221.4 355.5L1239.1 339.92M1234.92 355.5L1239.1 351.82" stroke="#8a5cad" stroke-width="0.8" stroke-opacity="0.9"/><rect x="1208.1" y="234.2" width="31" height="121.3" stroke-width="1.6"/><path d="M1208.1 323H1239.1" stroke-width="1.5"/></g>
<g stroke="#CC9900" fill="none"><path d="M1283.2 246.2V176.7M1274.95 176.7H1291.45" stroke-width="1.6"/><path d="M1283.2 358V430M1274.95 430H1291.45" stroke-width="1.6"/><rect x="1267.7" y="246.2" width="31" height="111.8" fill="#CC9900" fill-opacity="0.33" stroke="none"/><path d="M1267.7 252L1274.29 246.2M1267.7 263.9L1287.81 246.2M1267.7 275.8L1298.7 248.52M1267.7 287.7L1298.7 260.42M1267.7 299.6L1298.7 272.32M1267.7 311.5L1298.7 284.22M1267.7 323.4L1298.7 296.12M1267.7 335.3L1298.7 308.02M1267.7 347.2L1298.7 319.92M1268.95 358L1298.7 331.82M1282.47 358L1298.7 343.72M1296 358L1298.7 355.62" stroke="#9f7700" stroke-width="0.8" stroke-opacity="0.9"/><rect x="1267.7" y="246.2" width="31" height="111.8" stroke-width="1.6"/><path d="M1267.7 326.2H1298.7" stroke-width="1.5"/></g>
<g stroke="#00CBCC" fill="none"><path d="M1342.3 227.5V162.5M1334.05 162.5H1350.55" stroke-width="1.6"/><path d="M1342.3 351.2V430.5M1334.05 430.5H1350.55" stroke-width="1.6"/><rect x="1326.8" y="227.5" width="31" height="123.7" fill="#00CBCC" fill-opacity="0.33" stroke="none"/><path d="M1326.8 237L1337.6 227.5M1326.8 248.9L1351.12 227.5M1326.8 260.8L1357.8 233.52M1326.8 272.7L1357.8 245.42M1326.8 284.6L1357.8 257.32M1326.8 296.5L1357.8 269.22M1326.8 308.4L1357.8 281.12M1326.8 320.3L1357.8 293.02M1326.8 332.2L1357.8 304.92M1326.8 344.1L1357.8 316.82M1332.25 351.2L1357.8 328.72M1345.78 351.2L1357.8 340.62" stroke="#009e9f" stroke-width="0.8" stroke-opacity="0.9"/><rect x="1326.8" y="227.5" width="31" height="123.7" stroke-width="1.6"/><path d="M1326.8 321.2H1357.8" stroke-width="1.5"/></g>
<g stroke="#7D4E4E" fill="none"><path d="M1401.6 266.2V160.7M1393.35 160.7H1409.85" stroke-width="1.6"/><path d="M1401.6 355V417M1393.35 417H1409.85" stroke-width="1.6"/><rect x="1386.1" y="266.2" width="31" height="88.8" fill="#7D4E4E" fill-opacity="0.33" stroke="none"/><path d="M1386.1 267.5L1387.58 266.2M1386.1 279.4L1401.1 266.2M1386.1 291.3L1414.62 266.2M1386.1 303.2L1417.1 275.92M1386.1 315.1L1417.1 287.82M1386.1 327L1417.1 299.72M1386.1 338.9L1417.1 311.62M1386.1 350.8L1417.1 323.52M1394.85 355L1417.1 335.42M1408.37 355L1417.1 347.32" stroke="#613c3c" stroke-width="0.8" stroke-opacity="0.9"/><rect x="1386.1" y="266.2" width="31" height="88.8" stroke-width="1.6"/><path d="M1386.1 320H1417.1" stroke-width="1.5"/></g>
<g stroke="#8E8E00" fill="none"><path d="M1461.8 256.2V160.7M1453.55 160.7H1470.05" stroke-width="1.6"/><path d="M1461.8 359.2V417M1453.55 417H1470.05" stroke-width="1.6"/><rect x="1446.3" y="256.2" width="31" height="103" fill="#8E8E00" fill-opacity="0.33" stroke="none"/><path d="M1446.3 261.2L1451.98 256.2M1446.3 273.1L1465.5 256.2M1446.3 285L1477.3 257.72M1446.3 296.9L1477.3 269.62M1446.3 308.8L1477.3 281.52M1446.3 320.7L1477.3 293.42M1446.3 332.6L1477.3 305.32M1446.3 344.5L1477.3 317.22M1446.3 356.4L1477.3 329.12M1456.64 359.2L1477.3 341.02M1470.16 359.2L1477.3 352.92" stroke="#6e6e00" stroke-width="0.8" stroke-opacity="0.9"/><rect x="1446.3" y="256.2" width="31" height="103" stroke-width="1.6"/><path d="M1446.3 332.5H1477.3" stroke-width="1.5"/></g>
<g stroke="#FB6501" fill="none"><path d="M1521.1 223.7V160.7M1512.85 160.7H1529.35" stroke-width="1.6"/><path d="M1521.1 401.2V431.7M1512.85 431.7H1529.35" stroke-width="1.6"/><rect x="1505.6" y="223.7" width="31" height="177.5" fill="#FB6501" fill-opacity="0.33" stroke="none"/><path d="M1505.6 232.4L1515.49 223.7M1505.6 244.3L1529.01 223.7M1505.6 256.2L1536.6 228.92M1505.6 268.1L1536.6 240.82M1505.6 280L1536.6 252.72M1505.6 291.9L1536.6 264.62M1505.6 303.8L1536.6 276.52M1505.6 315.7L1536.6 288.42M1505.6 327.6L1536.6 300.32M1505.6 339.5L1536.6 312.22M1505.6 351.4L1536.6 324.12M1505.6 363.3L1536.6 336.02M1505.6 375.2L1536.6 347.92M1505.6 387.1L1536.6 359.82M1505.6 399L1536.6 371.72M1516.62 401.2L1536.6 383.62M1530.15 401.2L1536.6 395.52" stroke="#c34e00" stroke-width="0.8" stroke-opacity="0.9"/><rect x="1505.6" y="223.7" width="31" height="177.5" stroke-width="1.6"/><path d="M1505.6 345H1536.6" stroke-width="1.5"/></g>
<g stroke="#6699CC" fill="none"><path d="M1580.8 245.5V182.5M1572.55 182.5H1589.05" stroke-width="1.6"/><path d="M1580.8 366.2V431.7M1572.55 431.7H1589.05" stroke-width="1.6"/><rect x="1565.3" y="245.5" width="31" height="120.7" fill="#6699CC" fill-opacity="0.33" stroke="none"/><path d="M1565.3 246L1565.87 245.5M1565.3 257.9L1579.39 245.5M1565.3 269.8L1592.91 245.5M1565.3 281.7L1596.3 254.42M1565.3 293.6L1596.3 266.32M1565.3 305.5L1596.3 278.22M1565.3 317.4L1596.3 290.12M1565.3 329.3L1596.3 302.02M1565.3 341.2L1596.3 313.92M1565.3 353.1L1596.3 325.82M1565.3 365L1596.3 337.72M1577.46 366.2L1596.3 349.62M1590.98 366.2L1596.3 361.52" stroke="#4f779f" stroke-width="0.8" stroke-opacity="0.9"/><rect x="1565.3" y="245.5" width="31" height="120.7" stroke-width="1.6"/><path d="M1565.3 343.2H1596.3" stroke-width="1.5"/></g>
<g stroke="#6FB802" fill="none"><path d="M1640.2 193.2V160.7M1631.95 160.7H1648.45" stroke-width="1.6"/><path d="M1640.2 360V417M1631.95 417H1648.45" stroke-width="1.6"/><rect x="1624.7" y="193.2" width="31" height="166.8" fill="#6FB802" fill-opacity="0.33" stroke="none"/><path d="M1624.7 197.4L1629.47 193.2M1624.7 209.3L1643 193.2M1624.7 221.2L1655.7 193.92M1624.7 233.1L1655.7 205.82M1624.7 245L1655.7 217.72M1624.7 256.9L1655.7 229.62M1624.7 268.8L1655.7 241.52M1624.7 280.7L1655.7 253.42M1624.7 292.6L1655.7 265.32M1624.7 304.5L1655.7 277.22M1624.7 316.4L1655.7 289.12M1624.7 328.3L1655.7 301.02M1624.7 340.2L1655.7 312.92M1624.7 352.1L1655.7 324.82M1629.25 360L1655.7 336.72M1642.77 360L1655.7 348.62" stroke="#568f01" stroke-width="0.8" stroke-opacity="0.9"/><rect x="1624.7" y="193.2" width="31" height="166.8" stroke-width="1.6"/><path d="M1624.7 332.5H1655.7" stroke-width="1.5"/></g>
<g stroke="#515151" fill="none"><path d="M1699.6 240.7V160.7M1691.35 160.7H1707.85" stroke-width="1.6"/><path d="M1699.6 338.2V396.7M1691.35 396.7H1707.85" stroke-width="1.6"/><rect x="1684.1" y="240.7" width="31" height="97.5" fill="#515151" fill-opacity="0.33" stroke="none"/><path d="M1684.1 248.6L1693.08 240.7M1684.1 260.5L1706.6 240.7M1684.1 272.4L1715.1 245.12M1684.1 284.3L1715.1 257.02M1684.1 296.2L1715.1 268.92M1684.1 308.1L1715.1 280.82M1684.1 320L1715.1 292.72M1684.1 331.9L1715.1 304.62M1690.46 338.2L1715.1 316.52M1703.99 338.2L1715.1 328.42" stroke="#3f3f3f" stroke-width="0.8" stroke-opacity="0.9"/><rect x="1684.1" y="240.7" width="31" height="97.5" stroke-width="1.6"/><path d="M1684.1 311.7H1715.1" stroke-width="1.5"/></g>
<polyline points="986.2,318.2 1043.7,307 1104.2,323.2 1163.7,320 1223.2,309.5 1283,313 1342.5,308 1402.5,303.7 1461.5,314.2 1521,320.5 1581.2,320 1640,296.2 1698.7,292" fill="none" stroke="#fb0007" stroke-width="3.4" stroke-linejoin="round" stroke-linecap="round"/>
<g><circle cx="986.2" cy="318.2" r="1.3" fill="#515151" fill-opacity="0.75"/><circle cx="1104.2" cy="323.2" r="1.3" fill="#1A6FDF" fill-opacity="0.75"/><circle cx="1163.7" cy="320" r="1.3" fill="#37AD6B" fill-opacity="0.75"/><circle cx="1223.2" cy="309.5" r="1.3" fill="#B177DE" fill-opacity="0.75"/><circle cx="1283" cy="313" r="1.3" fill="#CC9900" fill-opacity="0.75"/><circle cx="1342.5" cy="308" r="1.3" fill="#00CBCC" fill-opacity="0.75"/><circle cx="1402.5" cy="303.7" r="1.3" fill="#7D4E4E" fill-opacity="0.75"/><circle cx="1461.5" cy="314.2" r="1.3" fill="#8E8E00" fill-opacity="0.75"/><circle cx="1521" cy="320.5" r="1.3" fill="#FB6501" fill-opacity="0.75"/><circle cx="1581.2" cy="320" r="1.3" fill="#6699CC" fill-opacity="0.75"/><circle cx="1640" cy="296.2" r="1.3" fill="#6FB802" fill-opacity="0.75"/><circle cx="1698.7" cy="292" r="1.3" fill="#515151" fill-opacity="0.75"/></g>
<g stroke="#000" fill="none"><path d="M955.5 33.9V557.95" stroke-width="2.1"/><path d="M954.45 556.05H1728.6" stroke-width="2.1"/><path d="M955.5 139.2H945.4M955.5 347.3H945.4M955.5 556.05H945.4M955.5 34.85H949.7M955.5 243.2H949.7M955.5 451.8H949.7M985 556.05V566.75M1044.5 556.05V566.75M1104.2 556.05V566.75M1163.5 556.05V566.75M1223 556.05V566.75M1282.5 556.05V566.75M1342 556.05V566.75M1402 556.05V566.75M1461.2 556.05V566.75M1520.5 556.05V566.75M1580.2 556.05V566.75M1639.7 556.05V566.75M1699.7 556.05V566.75" stroke-width="1.9"/></g>
<text x="909.95 919.15 932.6" y="147.9" font-size="23" text-anchor="middle">0.2</text>
<text x="909.95 919.15 932.6" y="356.4" font-size="23" text-anchor="middle">0.1</text>
<text x="909.95 919.15 932.6" y="565.2" font-size="23" text-anchor="middle">0.0</text>
<text transform="scale(0.9200,1)" x="1052.23 1064.51 1076.79 1089.08" y="595.6" font-size="24" text-anchor="middle">2009</text>
<text transform="scale(0.9200,1)" x="1116.9 1129.18 1141.47 1153.75" y="595.6" font-size="24" text-anchor="middle">2010</text>
<text transform="scale(0.9200,1)" x="1181.79 1194.08 1206.36 1218.64" y="595.6" font-size="24" text-anchor="middle">2011</text>
<text transform="scale(0.9200,1)" x="1246.25 1258.53 1270.82 1283.1" y="595.6" font-size="24" text-anchor="middle">2012</text>
<text transform="scale(0.9200,1)" x="1310.92 1323.21 1335.49 1347.77" y="595.6" font-size="24" text-anchor="middle">2013</text>
<text transform="scale(0.9200,1)" x="1375.6 1387.88 1400.16 1412.45" y="595.6" font-size="24" text-anchor="middle">2014</text>
<text transform="scale(0.9200,1)" x="1440.27 1452.55 1464.84 1477.12" y="595.6" font-size="24" text-anchor="middle">2015</text>
<text transform="scale(0.9200,1)" x="1505.49 1517.77 1530.05 1542.34" y="595.6" font-size="24" text-anchor="middle">2016</text>
<text transform="scale(0.9200,1)" x="1569.84 1582.12 1594.4 1606.68" y="595.6" font-size="24" text-anchor="middle">2017</text>
<text transform="scale(0.9200,1)" x="1634.29 1646.58 1658.86 1671.14" y="595.6" font-size="24" text-anchor="middle">2018</text>
<text transform="scale(0.9200,1)" x="1699.18 1711.47 1723.75 1736.03" y="595.6" font-size="24" text-anchor="middle">2019</text>
<text transform="scale(0.9200,1)" x="1763.86 1776.14 1788.42 1800.71" y="595.6" font-size="24" text-anchor="middle">2020</text>
<text transform="scale(0.9200,1)" x="1829.08 1841.36 1853.64 1865.92" y="595.6" font-size="24" text-anchor="middle">2021</text>
<text transform="translate(896,295.7) rotate(-90) scale(0.8000,1)" x="-66 -49.5 -33 -16.5 0 16.5 33 49.5 66" y="0" font-size="29" text-anchor="middle">Pollution</text>
</g>
<g id="panel3">
<g fill="url(#g0)"><circle cx="122.5" cy="786.2" r="2.9"/><circle cx="118.7" cy="798" r="2.9"/><circle cx="117.5" cy="888.7" r="2.9"/><circle cx="117" cy="925.5" r="2.9"/><circle cx="122.5" cy="940.5" r="2.9"/><circle cx="120.7" cy="945.5" r="2.9"/><circle cx="120.7" cy="959.2" r="2.9"/><circle cx="118" cy="1022" r="2.9"/><circle cx="117" cy="1031.7" r="2.9"/><circle cx="120.7" cy="1035" r="2.9"/><circle cx="124.5" cy="1035" r="2.9"/></g>
<g fill="url(#g1)"><circle cx="179.2" cy="786.2" r="2.9"/><circle cx="180.7" cy="798" r="2.9"/><circle cx="180" cy="805.7" r="2.9"/><circle cx="177.5" cy="889.2" r="2.9"/><circle cx="180" cy="925.5" r="2.9"/><circle cx="180" cy="939.5" r="2.9"/><circle cx="182.5" cy="945" r="2.9"/><circle cx="182" cy="1032.5" r="2.9"/><circle cx="180" cy="1036.2" r="2.9"/><circle cx="183.7" cy="1035.7" r="2.9"/></g>
<g fill="url(#g2)"><circle cx="236.2" cy="786.2" r="2.9"/><circle cx="242.5" cy="786.2" r="2.9"/><circle cx="239.5" cy="798" r="2.9"/><circle cx="237.5" cy="805" r="2.9"/><circle cx="239.2" cy="925" r="2.9"/><circle cx="238.7" cy="931.2" r="2.9"/><circle cx="239.2" cy="939.5" r="2.9"/><circle cx="237.5" cy="945" r="2.9"/><circle cx="240" cy="1031.7" r="2.9"/><circle cx="237.5" cy="1035" r="2.9"/><circle cx="242.5" cy="1035" r="2.9"/></g>
<g fill="url(#g3)"><circle cx="299" cy="786.2" r="2.9"/><circle cx="293.2" cy="892" r="2.9"/><circle cx="298.2" cy="930" r="2.9"/><circle cx="298.7" cy="939.5" r="2.9"/><circle cx="301.2" cy="943.7" r="2.9"/><circle cx="306.2" cy="945" r="2.9"/><circle cx="299.5" cy="953.7" r="2.9"/><circle cx="304.2" cy="981.2" r="2.9"/><circle cx="297" cy="1029.5" r="2.9"/><circle cx="295" cy="1035.5" r="2.9"/><circle cx="299.5" cy="1035.5" r="2.9"/><circle cx="303.2" cy="1035.5" r="2.9"/></g>
<g fill="url(#g4)"><circle cx="356.2" cy="786.2" r="2.9"/><circle cx="361.2" cy="786.2" r="2.9"/><circle cx="358.2" cy="891.7" r="2.9"/><circle cx="359.2" cy="904.2" r="2.9"/><circle cx="360.7" cy="913.2" r="2.9"/><circle cx="356.2" cy="929.5" r="2.9"/><circle cx="361.2" cy="938.7" r="2.9"/><circle cx="357.5" cy="943.7" r="2.9"/><circle cx="361.2" cy="1022.5" r="2.9"/><circle cx="361.7" cy="1029.2" r="2.9"/><circle cx="356.7" cy="1035.7" r="2.9"/><circle cx="361.2" cy="1035.7" r="2.9"/></g>
<g fill="url(#g5)"><circle cx="414.2" cy="786.2" r="2.9"/><circle cx="418" cy="786.2" r="2.9"/><circle cx="417.5" cy="800" r="2.9"/><circle cx="417.5" cy="805.7" r="2.9"/><circle cx="416.2" cy="891.2" r="2.9"/><circle cx="421.2" cy="889.2" r="2.9"/><circle cx="418" cy="904.2" r="2.9"/><circle cx="417.5" cy="913.2" r="2.9"/><circle cx="418" cy="929.5" r="2.9"/><circle cx="418.7" cy="939.5" r="2.9"/><circle cx="416.2" cy="944.2" r="2.9"/><circle cx="418" cy="1022.5" r="2.9"/><circle cx="422.5" cy="1022.5" r="2.9"/><circle cx="418" cy="1035.7" r="2.9"/><circle cx="422.5" cy="1035.7" r="2.9"/></g>
<g fill="url(#g6)"><circle cx="475" cy="786.2" r="2.9"/><circle cx="478.7" cy="786.2" r="2.9"/><circle cx="475" cy="800" r="2.9"/><circle cx="480" cy="805" r="2.9"/><circle cx="475.7" cy="883.7" r="2.9"/><circle cx="480.7" cy="890" r="2.9"/><circle cx="475" cy="904.2" r="2.9"/><circle cx="477.5" cy="911.2" r="2.9"/><circle cx="475" cy="929.5" r="2.9"/><circle cx="477.5" cy="939.5" r="2.9"/><circle cx="481.2" cy="943.7" r="2.9"/><circle cx="476.2" cy="945" r="2.9"/><circle cx="480.5" cy="981.2" r="2.9"/><circle cx="475" cy="1035" r="2.9"/></g>
<g fill="url(#g7)"><circle cx="538.7" cy="786.2" r="2.9"/><circle cx="533" cy="791.2" r="2.9"/><circle cx="534.5" cy="800" r="2.9"/><circle cx="536.2" cy="805.7" r="2.9"/><circle cx="536.2" cy="890" r="2.9"/><circle cx="537.5" cy="896.2" r="2.9"/><circle cx="534.5" cy="904.2" r="2.9"/><circle cx="536.2" cy="913.7" r="2.9"/><circle cx="536.2" cy="928.7" r="2.9"/><circle cx="534.5" cy="937.5" r="2.9"/><circle cx="536.2" cy="943.7" r="2.9"/><circle cx="537" cy="1031.7" r="2.9"/></g>
<g fill="url(#g8)"><circle cx="597.5" cy="786.2" r="2.9"/><circle cx="596.2" cy="792" r="2.9"/><circle cx="596.2" cy="800" r="2.9"/><circle cx="595" cy="805.7" r="2.9"/><circle cx="598.2" cy="891.7" r="2.9"/><circle cx="598.2" cy="925.5" r="2.9"/><circle cx="600" cy="938" r="2.9"/><circle cx="593.7" cy="943.7" r="2.9"/><circle cx="598.7" cy="943.7" r="2.9"/><circle cx="595.5" cy="1030.5" r="2.9"/></g>
<g fill="url(#g9)"><circle cx="657.5" cy="786.2" r="2.9"/><circle cx="658.7" cy="790.5" r="2.9"/><circle cx="660" cy="800" r="2.9"/><circle cx="655" cy="805.7" r="2.9"/><circle cx="653.7" cy="888.2" r="2.9"/><circle cx="656.2" cy="918" r="2.9"/><circle cx="656.2" cy="925.5" r="2.9"/><circle cx="658.7" cy="940" r="2.9"/><circle cx="655" cy="944.2" r="2.9"/><circle cx="660" cy="1007" r="2.9"/></g>
<g fill="url(#g10)"><circle cx="715" cy="790" r="2.9"/><circle cx="712.5" cy="797.5" r="2.9"/><circle cx="716.2" cy="801.2" r="2.9"/><circle cx="717.5" cy="805.7" r="2.9"/><circle cx="714.2" cy="918" r="2.9"/><circle cx="716.7" cy="925.5" r="2.9"/><circle cx="715" cy="940" r="2.9"/><circle cx="712.5" cy="944.2" r="2.9"/><circle cx="711.2" cy="1035.7" r="2.9"/><circle cx="715" cy="1036.2" r="2.9"/></g>
<g fill="url(#g11)"><circle cx="771.2" cy="786.2" r="2.9"/><circle cx="778" cy="789.5" r="2.9"/><circle cx="776.2" cy="799.5" r="2.9"/><circle cx="775" cy="805.7" r="2.9"/><circle cx="776.7" cy="938" r="2.9"/><circle cx="775" cy="944.2" r="2.9"/><circle cx="775" cy="1024.5" r="2.9"/><circle cx="775" cy="1036.2" r="2.9"/></g>
<g fill="url(#g0)"><circle cx="829.2" cy="786.2" r="2.9"/><circle cx="835" cy="791.2" r="2.9"/><circle cx="835.7" cy="800" r="2.9"/><circle cx="836.2" cy="805.7" r="2.9"/><circle cx="834.5" cy="880.7" r="2.9"/><circle cx="834.5" cy="891.2" r="2.9"/><circle cx="834.5" cy="938" r="2.9"/><circle cx="831.2" cy="944.2" r="2.9"/><circle cx="833.7" cy="1024.5" r="2.9"/><circle cx="835" cy="1036.2" r="2.9"/></g>
<g stroke="#515151" fill="none"><path d="M120.6 925.5V786.2M112.35 786.2H128.85" stroke-width="1.6"/><rect x="105.2" y="925.5" width="30.8" height="110.7" fill="#515151" fill-opacity="0.33" stroke="none"/><path d="M105.2 935.8L116.9 925.5M105.2 947.7L130.43 925.5M105.2 959.6L136 932.5M105.2 971.5L136 944.4M105.2 983.4L136 956.3M105.2 995.3L136 968.2M105.2 1007.2L136 980.1M105.2 1019.1L136 992M105.2 1031L136 1003.9M112.81 1036.2L136 1015.8M126.34 1036.2L136 1027.7" stroke="#3f3f3f" stroke-width="0.8" stroke-opacity="0.9"/><rect x="105.2" y="925.5" width="30.8" height="110.7" stroke-width="1.6"/><path d="M105.2 945.5H136" stroke-width="1.5"/></g>
<g stroke="#F14040" fill="none"><path d="M180.1 888.7V786.2M171.85 786.2H188.35" stroke-width="1.6"/><rect x="164.7" y="888.7" width="30.8" height="147.5" fill="#F14040" fill-opacity="0.33" stroke="none"/><path d="M164.7 890.8L167.09 888.7M164.7 902.7L180.61 888.7M164.7 914.6L194.13 888.7M164.7 926.5L195.5 899.4M164.7 938.4L195.5 911.3M164.7 950.3L195.5 923.2M164.7 962.2L195.5 935.1M164.7 974.1L195.5 947M164.7 986L195.5 958.9M164.7 997.9L195.5 970.8M164.7 1009.8L195.5 982.7M164.7 1021.7L195.5 994.6M164.7 1033.6L195.5 1006.5M175.27 1036.2L195.5 1018.4M188.79 1036.2L195.5 1030.3" stroke="#bb3131" stroke-width="0.8" stroke-opacity="0.9"/><rect x="164.7" y="888.7" width="30.8" height="147.5" stroke-width="1.6"/><path d="M164.7 943.7H195.5" stroke-width="1.5"/></g>
<g stroke="#1A6FDF" fill="none"><path d="M239.8 802.5V786.2M231.55 786.2H248.05" stroke-width="1.6"/><rect x="224.4" y="802.5" width="30.8" height="232" fill="#1A6FDF" fill-opacity="0.33" stroke="none"/><path d="M224.4 808.3L230.99 802.5M224.4 820.2L244.51 802.5M224.4 832.1L255.2 805M224.4 844L255.2 816.9M224.4 855.9L255.2 828.8M224.4 867.8L255.2 840.7M224.4 879.7L255.2 852.6M224.4 891.6L255.2 864.5M224.4 903.5L255.2 876.4M224.4 915.4L255.2 888.3M224.4 927.3L255.2 900.2M224.4 939.2L255.2 912.1M224.4 951.1L255.2 924M224.4 963L255.2 935.9M224.4 974.9L255.2 947.8M224.4 986.8L255.2 959.7M224.4 998.7L255.2 971.6M224.4 1010.6L255.2 983.5M224.4 1022.5L255.2 995.4M224.4 1034.4L255.2 1007.3M237.81 1034.5L255.2 1019.2M251.33 1034.5L255.2 1031.1" stroke="#1456ad" stroke-width="0.8" stroke-opacity="0.9"/><rect x="224.4" y="802.5" width="30.8" height="232" stroke-width="1.6"/><path d="M224.4 943.2H255.2" stroke-width="1.5"/></g>
<g stroke="#37AD6B" fill="none"><path d="M299.1 930.5V786.2M290.85 786.2H307.35" stroke-width="1.6"/><rect x="283.7" y="930.5" width="30.8" height="105" fill="#37AD6B" fill-opacity="0.33" stroke="none"/><path d="M283.7 940L294.5 930.5M283.7 951.9L308.02 930.5M283.7 963.8L314.5 936.7M283.7 975.7L314.5 948.6M283.7 987.6L314.5 960.5M283.7 999.5L314.5 972.4M283.7 1011.4L314.5 984.3M283.7 1023.3L314.5 996.2M283.7 1035.2L314.5 1008.1M296.88 1035.5L314.5 1020M310.4 1035.5L314.5 1031.9" stroke="#2a8653" stroke-width="0.8" stroke-opacity="0.9"/><rect x="283.7" y="930.5" width="30.8" height="105" stroke-width="1.6"/><path d="M283.7 943.7H314.5" stroke-width="1.5"/></g>
<g stroke="#B177DE" fill="none"><path d="M358.7 913.7V786.2M350.45 786.2H366.95" stroke-width="1.6"/><path d="M358.7 1023.2V1036.2M350.45 1036.2H366.95" stroke-width="1.6"/><rect x="343.3" y="913.7" width="30.8" height="109.5" fill="#B177DE" fill-opacity="0.33" stroke="none"/><path d="M343.3 915L344.78 913.7M343.3 926.9L358.3 913.7M343.3 938.8L371.82 913.7M343.3 950.7L374.1 923.6M343.3 962.6L374.1 935.5M343.3 974.5L374.1 947.4M343.3 986.4L374.1 959.3M343.3 998.3L374.1 971.2M343.3 1010.2L374.1 983.1M343.3 1022.1L374.1 995M355.57 1023.2L374.1 1006.9M369.1 1023.2L374.1 1018.8" stroke="#8a5cad" stroke-width="0.8" stroke-opacity="0.9"/><rect x="343.3" y="913.7" width="30.8" height="109.5" stroke-width="1.6"/><path d="M343.3 941.7H374.1" stroke-width="1.5"/></g>
<g stroke="#CC9900" fill="none"><path d="M418.1 892V889.2M409.85 889.2H426.35" stroke-width="1.6"/><rect x="402.7" y="892" width="30.8" height="52.2" fill="#CC9900" fill-opacity="0.33" stroke="none"/><path d="M402.7 897L408.38 892M402.7 908.9L421.9 892M402.7 920.8L433.5 893.7M402.7 932.7L433.5 905.6M403.15 944.2L433.5 917.5M416.68 944.2L433.5 929.4M430.2 944.2L433.5 941.3" stroke="#9f7700" stroke-width="0.8" stroke-opacity="0.9"/><rect x="402.7" y="892" width="30.8" height="52.2" stroke-width="1.6"/><path d="M402.7 936.7H433.5" stroke-width="1.5"/></g>
<g stroke="#00CBCC" fill="none"><path d="M477.2 884V800M468.95 800H485.45" stroke-width="1.6"/><path d="M477.2 943.7V1035M468.95 1035H485.45" stroke-width="1.6"/><rect x="461.8" y="884" width="30.8" height="59.7" fill="#00CBCC" fill-opacity="0.33" stroke="none"/><path d="M461.8 892.7L471.69 884M461.8 904.6L485.21 884M461.8 916.5L492.6 889.4M461.8 928.4L492.6 901.3M461.8 940.3L492.6 913.2M471.46 943.7L492.6 925.1M484.98 943.7L492.6 937" stroke="#009e9f" stroke-width="0.8" stroke-opacity="0.9"/><rect x="461.8" y="884" width="30.8" height="59.7" stroke-width="1.6"/><path d="M461.8 933.2H492.6" stroke-width="1.5"/></g>
<g stroke="#7D4E4E" fill="none"><path d="M537.2 806.2V786.2M528.95 786.2H545.45" stroke-width="1.6"/><path d="M537.2 943.7V1031.7M528.95 1031.7H545.45" stroke-width="1.6"/><rect x="521.8" y="806.2" width="30.8" height="137.5" fill="#7D4E4E" fill-opacity="0.33" stroke="none"/><path d="M521.8 806.7L522.37 806.2M521.8 818.6L535.89 806.2M521.8 830.5L549.41 806.2M521.8 842.4L552.6 815.3M521.8 854.3L552.6 827.2M521.8 866.2L552.6 839.1M521.8 878.1L552.6 851M521.8 890L552.6 862.9M521.8 901.9L552.6 874.8M521.8 913.8L552.6 886.7M521.8 925.7L552.6 898.6M521.8 937.6L552.6 910.5M528.39 943.7L552.6 922.4M541.91 943.7L552.6 934.3" stroke="#613c3c" stroke-width="0.8" stroke-opacity="0.9"/><rect x="521.8" y="806.2" width="30.8" height="137.5" stroke-width="1.6"/><path d="M521.8 921.7H552.6" stroke-width="1.5"/></g>
<g stroke="#8E8E00" fill="none"><path d="M597 796.7V786.2M588.75 786.2H605.25" stroke-width="1.6"/><path d="M597 943.7V1030.5M588.75 1030.5H605.25" stroke-width="1.6"/><rect x="581.6" y="796.7" width="30.8" height="147" fill="#8E8E00" fill-opacity="0.33" stroke="none"/><path d="M581.6 800.9L586.37 796.7M581.6 812.8L599.9 796.7M581.6 824.7L612.4 797.6M581.6 836.6L612.4 809.5M581.6 848.5L612.4 821.4M581.6 860.4L612.4 833.3M581.6 872.3L612.4 845.2M581.6 884.2L612.4 857.1M581.6 896.1L612.4 869M581.6 908L612.4 880.9M581.6 919.9L612.4 892.8M581.6 931.8L612.4 904.7M581.6 943.7L612.4 916.6M595.12 943.7L612.4 928.5M608.65 943.7L612.4 940.4" stroke="#6e6e00" stroke-width="0.8" stroke-opacity="0.9"/><rect x="581.6" y="796.7" width="30.8" height="147" stroke-width="1.6"/><path d="M581.6 909.2H612.4" stroke-width="1.5"/></g>
<g stroke="#FB6501" fill="none"><path d="M656.5 800.5V786.2M648.25 786.2H664.75" stroke-width="1.6"/><path d="M656.5 943.7V1007.5M648.25 1007.5H664.75" stroke-width="1.6"/><rect x="641.1" y="800.5" width="30.8" height="143.2" fill="#FB6501" fill-opacity="0.33" stroke="none"/><path d="M641.1 808.4L650.08 800.5M641.1 820.3L663.6 800.5M641.1 832.2L671.9 805.1M641.1 844.1L671.9 817M641.1 856L671.9 828.9M641.1 867.9L671.9 840.8M641.1 879.8L671.9 852.7M641.1 891.7L671.9 864.6M641.1 903.6L671.9 876.5M641.1 915.5L671.9 888.4M641.1 927.4L671.9 900.3M641.1 939.3L671.9 912.2M649.62 943.7L671.9 924.1M663.15 943.7L671.9 936" stroke="#c34e00" stroke-width="0.8" stroke-opacity="0.9"/><rect x="641.1" y="800.5" width="30.8" height="143.2" stroke-width="1.6"/><path d="M641.1 918H671.9" stroke-width="1.5"/></g>
<g stroke="#6699CC" fill="none"><path d="M715.8 800.5V790M707.55 790H724.05" stroke-width="1.6"/><path d="M715.8 940.5V1036.2M707.55 1036.2H724.05" stroke-width="1.6"/><rect x="700.4" y="800.5" width="30.8" height="140" fill="#6699CC" fill-opacity="0.33" stroke="none"/><path d="M700.4 812.1L713.58 800.5M700.4 824L727.1 800.5M700.4 835.9L731.2 808.8M700.4 847.8L731.2 820.7M700.4 859.7L731.2 832.6M700.4 871.6L731.2 844.5M700.4 883.5L731.2 856.4M700.4 895.4L731.2 868.3M700.4 907.3L731.2 880.2M700.4 919.2L731.2 892.1M700.4 931.1L731.2 904M703.24 940.5L731.2 915.9M716.76 940.5L731.2 927.8M730.29 940.5L731.2 939.7" stroke="#4f779f" stroke-width="0.8" stroke-opacity="0.9"/><rect x="700.4" y="800.5" width="30.8" height="140" stroke-width="1.6"/><path d="M700.4 805H731.2" stroke-width="1.5"/></g>
<g stroke="#6FB802" fill="none"><path d="M775.6 799.5V786.2M767.35 786.2H783.85" stroke-width="1.6"/><path d="M775.6 943.7V1036.2M767.35 1036.2H783.85" stroke-width="1.6"/><rect x="760.2" y="799.5" width="30.8" height="144.2" fill="#6FB802" fill-opacity="0.33" stroke="none"/><path d="M760.2 802.9L764.06 799.5M760.2 814.8L777.59 799.5M760.2 826.7L791 799.6M760.2 838.6L791 811.5M760.2 850.5L791 823.4M760.2 862.4L791 835.3M760.2 874.3L791 847.2M760.2 886.2L791 859.1M760.2 898.1L791 871M760.2 910L791 882.9M760.2 921.9L791 894.8M760.2 933.8L791 906.7M762.47 943.7L791 918.6M776 943.7L791 930.5M789.52 943.7L791 942.4" stroke="#568f01" stroke-width="0.8" stroke-opacity="0.9"/><rect x="760.2" y="799.5" width="30.8" height="144.2" stroke-width="1.6"/><path d="M760.2 805H791" stroke-width="1.5"/></g>
<g stroke="#515151" fill="none"><path d="M835 800.5V786.2M826.75 786.2H843.25" stroke-width="1.6"/><path d="M835 944.5V1036.2M826.75 1036.2H843.25" stroke-width="1.6"/><rect x="819.6" y="800.5" width="30.8" height="144" fill="#515151" fill-opacity="0.33" stroke="none"/><path d="M819.6 807.6L827.67 800.5M819.6 819.5L841.19 800.5M819.6 831.4L850.4 804.3M819.6 843.3L850.4 816.2M819.6 855.2L850.4 828.1M819.6 867.1L850.4 840M819.6 879L850.4 851.9M819.6 890.9L850.4 863.8M819.6 902.8L850.4 875.7M819.6 914.7L850.4 887.6M819.6 926.6L850.4 899.5M819.6 938.5L850.4 911.4M826.3 944.5L850.4 923.3M839.83 944.5L850.4 935.2" stroke="#3f3f3f" stroke-width="0.8" stroke-opacity="0.9"/><rect x="819.6" y="800.5" width="30.8" height="144" stroke-width="1.6"/><path d="M819.6 805.7H850.4" stroke-width="1.5"/></g>
<polyline points="121.2,959.2 180,945 240,925 299.5,953.2 358.7,943.7 417.5,916.2 477.5,911.2 537.5,897 597.5,878.7 656.2,881.2 715.7,868.2 775,859.5 834.5,880.7" fill="none" stroke="#fb0007" stroke-width="3.4" stroke-linejoin="round" stroke-linecap="round"/>
<g><circle cx="121.2" cy="959.2" r="1.3" fill="#515151" fill-opacity="0.75"/><circle cx="240" cy="925" r="1.3" fill="#1A6FDF" fill-opacity="0.75"/><circle cx="299.5" cy="953.2" r="1.3" fill="#37AD6B" fill-opacity="0.75"/><circle cx="358.7" cy="943.7" r="1.3" fill="#B177DE" fill-opacity="0.75"/><circle cx="417.5" cy="916.2" r="1.3" fill="#CC9900" fill-opacity="0.75"/><circle cx="477.5" cy="911.2" r="1.3" fill="#00CBCC" fill-opacity="0.75"/><circle cx="537.5" cy="897" r="1.3" fill="#7D4E4E" fill-opacity="0.75"/><circle cx="597.5" cy="878.7" r="1.3" fill="#8E8E00" fill-opacity="0.75"/><circle cx="656.2" cy="881.2" r="1.3" fill="#FB6501" fill-opacity="0.75"/><circle cx="715.7" cy="868.2" r="1.3" fill="#6699CC" fill-opacity="0.75"/><circle cx="775" cy="859.5" r="1.3" fill="#6FB802" fill-opacity="0.75"/><circle cx="834.5" cy="880.7" r="1.3" fill="#515151" fill-opacity="0.75"/></g>
<g stroke="#000" fill="none"><path d="M90.7 619.1V1142.9" stroke-width="1.85"/><path d="M89.78 1141H864.5" stroke-width="1.7"/><path d="M90.7 620.05H80.6M90.7 828.1H80.6M90.7 1037.7H80.6M90.7 724.3H84.9M90.7 933.3H84.9M90.7 1141H84.9M120.15 1141V1151.7M179.6 1141V1151.7M239.5 1141V1151.7M298.8 1141V1151.7M358.2 1141V1151.7M417.6 1141V1151.7M477.2 1141V1151.7M537 1141V1151.7M596.5 1141V1151.7M655.7 1141V1151.7M715.5 1141V1151.7M775.2 1141V1151.7M835 1141V1151.7" stroke-width="1.9"/></g>
<text x="45.15 54.35 67.8" y="629.2" font-size="23" text-anchor="middle">0.4</text>
<text x="45.15 54.35 67.8" y="838.2" font-size="23" text-anchor="middle">0.2</text>
<text x="45.15 54.35 67.8" y="1046.9" font-size="23" text-anchor="middle">0.0</text>
<text transform="scale(0.9200,1)" x="112.17 124.46 136.74 149.02" y="1180.6" font-size="24" text-anchor="middle">2009</text>
<text transform="scale(0.9200,1)" x="176.79 189.08 201.36 213.64" y="1180.6" font-size="24" text-anchor="middle">2010</text>
<text transform="scale(0.9200,1)" x="241.9 254.18 266.47 278.75" y="1180.6" font-size="24" text-anchor="middle">2011</text>
<text transform="scale(0.9200,1)" x="306.36 318.64 330.92 343.21" y="1180.6" font-size="24" text-anchor="middle">2012</text>
<text transform="scale(0.9200,1)" x="370.92 383.21 395.49 407.77" y="1180.6" font-size="24" text-anchor="middle">2013</text>
<text transform="scale(0.9200,1)" x="435.49 447.77 460.05 472.34" y="1180.6" font-size="24" text-anchor="middle">2014</text>
<text transform="scale(0.9200,1)" x="500.27 512.55 524.84 537.12" y="1180.6" font-size="24" text-anchor="middle">2015</text>
<text transform="scale(0.9200,1)" x="565.27 577.55 589.84 602.12" y="1180.6" font-size="24" text-anchor="middle">2016</text>
<text transform="scale(0.9200,1)" x="629.95 642.23 654.51 666.79" y="1180.6" font-size="24" text-anchor="middle">2017</text>
<text transform="scale(0.9200,1)" x="694.29 706.58 718.86 731.14" y="1180.6" font-size="24" text-anchor="middle">2018</text>
<text transform="scale(0.9200,1)" x="759.29 771.58 783.86 796.14" y="1180.6" font-size="24" text-anchor="middle">2019</text>
<text transform="scale(0.9200,1)" x="824.18 836.47 848.75 861.03" y="1180.6" font-size="24" text-anchor="middle">2020</text>
<text transform="scale(0.9200,1)" x="889.18 901.47 913.75 926.03" y="1180.6" font-size="24" text-anchor="middle">2021</text>
<text transform="translate(30.6,881.5) rotate(-90) scale(0.8000,1)" x="-49.5 -33 -16.5 0 16.5 33 49.5" y="0" font-size="29" text-anchor="middle">Product</text>
</g>
<g id="panel4">
<g fill="url(#g0)"><circle cx="982.5" cy="749.5" r="2.9"/><circle cx="985.5" cy="749.5" r="2.9"/><circle cx="986.7" cy="769.5" r="2.9"/><circle cx="982" cy="869.5" r="2.9"/><circle cx="985.2" cy="869.5" r="2.9"/><circle cx="981.7" cy="986.2" r="2.9"/><circle cx="986.2" cy="986.2" r="2.9"/><circle cx="983.2" cy="1001.7" r="2.9"/><circle cx="981.7" cy="1008.2" r="2.9"/><circle cx="988.7" cy="1011.7" r="2.9"/><circle cx="981.7" cy="1027" r="2.9"/><circle cx="985" cy="1032" r="2.9"/><circle cx="979.5" cy="1051.7" r="2.9"/><circle cx="986.7" cy="1074.2" r="2.9"/></g>
<g fill="url(#g1)"><circle cx="1045" cy="749.5" r="2.9"/><circle cx="1044.2" cy="769.5" r="2.9"/><circle cx="1042" cy="865" r="2.9"/><circle cx="1045.5" cy="865" r="2.9"/><circle cx="1044.5" cy="984.5" r="2.9"/><circle cx="1045.5" cy="1002" r="2.9"/><circle cx="1046.7" cy="1008.2" r="2.9"/><circle cx="1043.7" cy="1015.5" r="2.9"/><circle cx="1043.7" cy="1020" r="2.9"/><circle cx="1045" cy="1025" r="2.9"/><circle cx="1048.7" cy="1074.2" r="2.9"/></g>
<g fill="url(#g2)"><circle cx="1104.2" cy="749.5" r="2.9"/><circle cx="1107" cy="749.5" r="2.9"/><circle cx="1104.5" cy="770" r="2.9"/><circle cx="1105" cy="862.5" r="2.9"/><circle cx="1104.2" cy="982.5" r="2.9"/><circle cx="1103" cy="989.2" r="2.9"/><circle cx="1104.2" cy="1000.7" r="2.9"/><circle cx="1102.5" cy="1009.2" r="2.9"/><circle cx="1104.2" cy="1015.5" r="2.9"/><circle cx="1103" cy="1019.2" r="2.9"/><circle cx="1101.2" cy="1023.7" r="2.9"/><circle cx="1101.2" cy="1074.2" r="2.9"/><circle cx="1104.5" cy="1074.2" r="2.9"/><circle cx="1108" cy="1074.2" r="2.9"/></g>
<g fill="url(#g3)"><circle cx="1163.7" cy="749.5" r="2.9"/><circle cx="1158" cy="764.2" r="2.9"/><circle cx="1163" cy="764.2" r="2.9"/><circle cx="1165.5" cy="770" r="2.9"/><circle cx="1163.2" cy="891" r="2.9"/><circle cx="1169.2" cy="981.7" r="2.9"/><circle cx="1161.7" cy="985.7" r="2.9"/><circle cx="1162" cy="1000.7" r="2.9"/><circle cx="1165.5" cy="1010" r="2.9"/><circle cx="1163.7" cy="1016.7" r="2.9"/><circle cx="1170.7" cy="1024.2" r="2.9"/><circle cx="1158.7" cy="1074.2" r="2.9"/><circle cx="1163.2" cy="1074.2" r="2.9"/><circle cx="1168" cy="1074.2" r="2.9"/></g>
<g fill="url(#g4)"><circle cx="1222.5" cy="749.5" r="2.9"/><circle cx="1225.5" cy="749.5" r="2.9"/><circle cx="1223.2" cy="758.7" r="2.9"/><circle cx="1223.7" cy="770.5" r="2.9"/><circle cx="1222.5" cy="891.2" r="2.9"/><circle cx="1225" cy="981.2" r="2.9"/><circle cx="1220.7" cy="985" r="2.9"/><circle cx="1226.7" cy="996.7" r="2.9"/><circle cx="1222.5" cy="1010.7" r="2.9"/><circle cx="1225" cy="1015.5" r="2.9"/><circle cx="1220.7" cy="1023.7" r="2.9"/><circle cx="1221.2" cy="1074.2" r="2.9"/></g>
<g fill="url(#g5)"><circle cx="1283" cy="749.5" r="2.9"/><circle cx="1287" cy="749.5" r="2.9"/><circle cx="1282" cy="758" r="2.9"/><circle cx="1282.5" cy="773.7" r="2.9"/><circle cx="1287.5" cy="891" r="2.9"/><circle cx="1282.5" cy="981.2" r="2.9"/><circle cx="1282.5" cy="985" r="2.9"/><circle cx="1282.5" cy="996.7" r="2.9"/><circle cx="1283.7" cy="1010" r="2.9"/><circle cx="1281.2" cy="1015" r="2.9"/><circle cx="1286.2" cy="1016.2" r="2.9"/><circle cx="1282" cy="1023" r="2.9"/><circle cx="1280" cy="1074.2" r="2.9"/><circle cx="1283" cy="1074.2" r="2.9"/></g>
<g fill="url(#g6)"><circle cx="1341.2" cy="749.2" r="2.9"/><circle cx="1346.2" cy="757" r="2.9"/><circle cx="1337.5" cy="761.2" r="2.9"/><circle cx="1341.2" cy="773.7" r="2.9"/><circle cx="1345" cy="891.7" r="2.9"/><circle cx="1340" cy="961.7" r="2.9"/><circle cx="1338.7" cy="983.7" r="2.9"/><circle cx="1345" cy="980" r="2.9"/><circle cx="1342" cy="1001.2" r="2.9"/><circle cx="1342" cy="1009.2" r="2.9"/><circle cx="1340" cy="1015" r="2.9"/><circle cx="1345.7" cy="1015.5" r="2.9"/><circle cx="1340.7" cy="1022.5" r="2.9"/><circle cx="1341.2" cy="1074.2" r="2.9"/><circle cx="1347" cy="1074.2" r="2.9"/></g>
<g fill="url(#g7)"><circle cx="1396.2" cy="749.2" r="2.9"/><circle cx="1400.7" cy="756.2" r="2.9"/><circle cx="1400.7" cy="774.2" r="2.9"/><circle cx="1401.2" cy="891.2" r="2.9"/><circle cx="1399.5" cy="963" r="2.9"/><circle cx="1400.7" cy="979.5" r="2.9"/><circle cx="1400.7" cy="984.2" r="2.9"/><circle cx="1399.5" cy="1001.2" r="2.9"/><circle cx="1400.7" cy="1009.2" r="2.9"/><circle cx="1399.5" cy="1015" r="2.9"/><circle cx="1405" cy="1015.5" r="2.9"/><circle cx="1402.5" cy="1022.5" r="2.9"/><circle cx="1400" cy="1073.7" r="2.9"/></g>
<g fill="url(#g8)"><circle cx="1461.2" cy="749.2" r="2.9"/><circle cx="1462.5" cy="755" r="2.9"/><circle cx="1458" cy="774.2" r="2.9"/><circle cx="1460.7" cy="837.5" r="2.9"/><circle cx="1462.5" cy="963.7" r="2.9"/><circle cx="1462" cy="979.5" r="2.9"/><circle cx="1462.5" cy="983.7" r="2.9"/><circle cx="1465" cy="1002" r="2.9"/><circle cx="1462.5" cy="1009.2" r="2.9"/><circle cx="1460" cy="1015" r="2.9"/><circle cx="1458.2" cy="1021.7" r="2.9"/><circle cx="1458.7" cy="1047.5" r="2.9"/><circle cx="1463.7" cy="1074.2" r="2.9"/></g>
<g fill="url(#g9)"><circle cx="1519.8" cy="748.4" r="2.9"/><circle cx="1525.5" cy="748.8" r="2.9"/><circle cx="1520.2" cy="754.4" r="2.9"/><circle cx="1520.5" cy="774.2" r="2.9"/><circle cx="1521" cy="964.2" r="2.9"/><circle cx="1523.2" cy="979.5" r="2.9"/><circle cx="1522.5" cy="984.2" r="2.9"/><circle cx="1521" cy="1002.5" r="2.9"/><circle cx="1523.7" cy="1009.2" r="2.9"/><circle cx="1520" cy="1016.2" r="2.9"/><circle cx="1521" cy="1021.7" r="2.9"/><circle cx="1524.2" cy="1025" r="2.9"/><circle cx="1519.2" cy="1042.5" r="2.9"/><circle cx="1520.5" cy="1051.7" r="2.9"/><circle cx="1520" cy="1074.2" r="2.9"/></g>
<g fill="url(#g10)"><circle cx="1576.2" cy="749.2" r="2.9"/><circle cx="1580.5" cy="749.2" r="2.9"/><circle cx="1579.2" cy="774.2" r="2.9"/><circle cx="1575.7" cy="963.7" r="2.9"/><circle cx="1580" cy="979.2" r="2.9"/><circle cx="1580" cy="996.2" r="2.9"/><circle cx="1578.7" cy="1002.5" r="2.9"/><circle cx="1581.2" cy="1008.7" r="2.9"/><circle cx="1575.7" cy="1016.2" r="2.9"/><circle cx="1581.2" cy="1016.2" r="2.9"/><circle cx="1579.5" cy="1021.7" r="2.9"/><circle cx="1580.2" cy="1033" r="2.9"/><circle cx="1583" cy="1042" r="2.9"/><circle cx="1581.2" cy="1051.7" r="2.9"/><circle cx="1577.5" cy="1074.2" r="2.9"/></g>
<g fill="url(#g11)"><circle cx="1639.5" cy="751.2" r="2.9"/><circle cx="1639" cy="774.2" r="2.9"/><circle cx="1643.7" cy="978.2" r="2.9"/><circle cx="1640" cy="986.7" r="2.9"/><circle cx="1637.5" cy="996.7" r="2.9"/><circle cx="1640.5" cy="1003.2" r="2.9"/><circle cx="1640.5" cy="1008.7" r="2.9"/><circle cx="1641.7" cy="1016.2" r="2.9"/><circle cx="1638.2" cy="1022.5" r="2.9"/><circle cx="1640" cy="1042.5" r="2.9"/><circle cx="1635.7" cy="1051.7" r="2.9"/><circle cx="1640.5" cy="1074.2" r="2.9"/></g>
<g fill="url(#g0)"><circle cx="1698.7" cy="774.2" r="2.9"/><circle cx="1700" cy="978.2" r="2.9"/><circle cx="1699.5" cy="986.2" r="2.9"/><circle cx="1699.5" cy="997.5" r="2.9"/><circle cx="1701.2" cy="1005" r="2.9"/><circle cx="1698.7" cy="1009.2" r="2.9"/><circle cx="1696.2" cy="1016.2" r="2.9"/><circle cx="1695" cy="1022.5" r="2.9"/><circle cx="1701.7" cy="1041.7" r="2.9"/><circle cx="1694.5" cy="1051.7" r="2.9"/><circle cx="1696.2" cy="1074.2" r="2.9"/><circle cx="1699.2" cy="1074.2" r="2.9"/></g>
<g stroke="#515151" fill="none"><path d="M985.6 1032.5V1074.2M977.35 1074.2H993.85" stroke-width="1.6"/><rect x="970.1" y="985.7" width="31" height="46.8" fill="#515151" fill-opacity="0.33" stroke="none"/><path d="M970.1 995.2L980.9 985.7M970.1 1007.1L994.42 985.7M970.1 1019L1001.1 991.72M970.1 1030.9L1001.1 1003.62M981.8 1032.5L1001.1 1015.52M995.33 1032.5L1001.1 1027.42" stroke="#3f3f3f" stroke-width="0.8" stroke-opacity="0.9"/><rect x="970.1" y="985.7" width="31" height="46.8" stroke-width="1.6"/><path d="M970.1 1011.2H1001.1" stroke-width="1.5"/></g>
<g stroke="#F14040" fill="none"><path d="M1045 1024.5V1074.2M1036.75 1074.2H1053.25" stroke-width="1.6"/><rect x="1029.5" y="984.5" width="31" height="40" fill="#F14040" fill-opacity="0.33" stroke="none"/><path d="M1029.5 985.8L1030.98 984.5M1029.5 997.7L1044.5 984.5M1029.5 1009.6L1058.02 984.5M1029.5 1021.5L1060.5 994.22M1039.61 1024.5L1060.5 1006.12M1053.14 1024.5L1060.5 1018.02" stroke="#bb3131" stroke-width="0.8" stroke-opacity="0.9"/><rect x="1029.5" y="984.5" width="31" height="40" stroke-width="1.6"/><path d="M1029.5 1010.7H1060.5" stroke-width="1.5"/></g>
<g stroke="#1A6FDF" fill="none"><path d="M1104 985.7V982.5M1095.75 982.5H1112.25" stroke-width="1.6"/><path d="M1104 1021.7V1023.7M1095.75 1023.7H1112.25" stroke-width="1.6"/><rect x="1088.5" y="985.7" width="31" height="36" fill="#1A6FDF" fill-opacity="0.33" stroke="none"/><path d="M1088.5 990.7L1094.18 985.7M1088.5 1002.6L1107.7 985.7M1088.5 1014.5L1119.5 987.22M1093.84 1021.7L1119.5 999.12M1107.36 1021.7L1119.5 1011.02" stroke="#1456ad" stroke-width="0.8" stroke-opacity="0.9"/><rect x="1088.5" y="985.7" width="31" height="36" stroke-width="1.6"/><path d="M1088.5 1012H1119.5" stroke-width="1.5"/></g>
<g stroke="#37AD6B" fill="none"><path d="M1163.8 1016.7V1024.2M1155.55 1024.2H1172.05" stroke-width="1.6"/><rect x="1148.3" y="981.7" width="31" height="35" fill="#37AD6B" fill-opacity="0.33" stroke="none"/><path d="M1148.3 990.4L1158.19 981.7M1148.3 1002.3L1171.71 981.7M1148.3 1014.2L1179.3 986.92M1158.98 1016.7L1179.3 998.82M1172.5 1016.7L1179.3 1010.72" stroke="#2a8653" stroke-width="0.8" stroke-opacity="0.9"/><rect x="1148.3" y="981.7" width="31" height="35" stroke-width="1.6"/><path d="M1148.3 1010.7H1179.3" stroke-width="1.5"/></g>
<g stroke="#B177DE" fill="none"><path d="M1223.6 962.5V891.2M1215.35 891.2H1231.85" stroke-width="1.6"/><path d="M1223.6 1015.5V1074.2M1215.35 1074.2H1231.85" stroke-width="1.6"/><rect x="1208.1" y="962.5" width="31" height="53" fill="#B177DE" fill-opacity="0.33" stroke="none"/><path d="M1208.1 963L1208.67 962.5M1208.1 974.9L1222.19 962.5M1208.1 986.8L1235.71 962.5M1208.1 998.7L1239.1 971.42M1208.1 1010.6L1239.1 983.32M1216.05 1015.5L1239.1 995.22M1229.58 1015.5L1239.1 1007.12" stroke="#8a5cad" stroke-width="0.8" stroke-opacity="0.9"/><rect x="1208.1" y="962.5" width="31" height="53" stroke-width="1.6"/><path d="M1208.1 1009.2H1239.1" stroke-width="1.5"/></g>
<g stroke="#CC9900" fill="none"><path d="M1283.2 962.5V891.2M1274.95 891.2H1291.45" stroke-width="1.6"/><path d="M1283.2 1016.7V1074.2M1274.95 1074.2H1291.45" stroke-width="1.6"/><rect x="1267.7" y="962.5" width="31" height="54.2" fill="#CC9900" fill-opacity="0.33" stroke="none"/><path d="M1267.7 966.7L1272.47 962.5M1267.7 978.6L1286 962.5M1267.7 990.5L1298.7 963.22M1267.7 1002.4L1298.7 975.12M1267.7 1014.3L1298.7 987.02M1278.5 1016.7L1298.7 998.92M1292.02 1016.7L1298.7 1010.82" stroke="#9f7700" stroke-width="0.8" stroke-opacity="0.9"/><rect x="1267.7" y="962.5" width="31" height="54.2" stroke-width="1.6"/><path d="M1267.7 1009.2H1298.7" stroke-width="1.5"/></g>
<g stroke="#00CBCC" fill="none"><path d="M1342.3 891.2V749.2M1334.05 749.2H1350.55" stroke-width="1.6"/><path d="M1342.3 1016.7V1074.2M1334.05 1074.2H1350.55" stroke-width="1.6"/><rect x="1326.8" y="891.2" width="31" height="125.5" fill="#00CBCC" fill-opacity="0.33" stroke="none"/><path d="M1326.8 899.1L1335.78 891.2M1326.8 911L1349.3 891.2M1326.8 922.9L1357.8 895.62M1326.8 934.8L1357.8 907.52M1326.8 946.7L1357.8 919.42M1326.8 958.6L1357.8 931.32M1326.8 970.5L1357.8 943.22M1326.8 982.4L1357.8 955.12M1326.8 994.3L1357.8 967.02M1326.8 1006.2L1357.8 978.92M1328.39 1016.7L1357.8 990.82M1341.91 1016.7L1357.8 1002.72M1355.44 1016.7L1357.8 1014.62" stroke="#009e9f" stroke-width="0.8" stroke-opacity="0.9"/><rect x="1326.8" y="891.2" width="31" height="125.5" stroke-width="1.6"/><path d="M1326.8 1005.7H1357.8" stroke-width="1.5"/></g>
<g stroke="#7D4E4E" fill="none"><path d="M1401.8 891.2V749.2M1393.55 749.2H1410.05" stroke-width="1.6"/><path d="M1401.8 1016.7V1074.2M1393.55 1074.2H1410.05" stroke-width="1.6"/><rect x="1386.3" y="891.2" width="31" height="125.5" fill="#7D4E4E" fill-opacity="0.33" stroke="none"/><path d="M1386.3 902.8L1399.48 891.2M1386.3 914.7L1413 891.2M1386.3 926.6L1417.3 899.32M1386.3 938.5L1417.3 911.22M1386.3 950.4L1417.3 923.12M1386.3 962.3L1417.3 935.02M1386.3 974.2L1417.3 946.92M1386.3 986.1L1417.3 958.82M1386.3 998L1417.3 970.72M1386.3 1009.9L1417.3 982.62M1392.1 1016.7L1417.3 994.52M1405.62 1016.7L1417.3 1006.42" stroke="#613c3c" stroke-width="0.8" stroke-opacity="0.9"/><rect x="1386.3" y="891.2" width="31" height="125.5" stroke-width="1.6"/><path d="M1386.3 1005.7H1417.3" stroke-width="1.5"/></g>
<g stroke="#8E8E00" fill="none"><path d="M1462 837V749.2M1453.75 749.2H1470.25" stroke-width="1.6"/><path d="M1462 1016.7V1074.2M1453.75 1074.2H1470.25" stroke-width="1.6"/><rect x="1446.5" y="837" width="31" height="179.7" fill="#8E8E00" fill-opacity="0.33" stroke="none"/><path d="M1446.5 840.4L1450.36 837M1446.5 852.3L1463.89 837M1446.5 864.2L1477.41 837M1446.5 876.1L1477.5 848.82M1446.5 888L1477.5 860.72M1446.5 899.9L1477.5 872.62M1446.5 911.8L1477.5 884.52M1446.5 923.7L1477.5 896.42M1446.5 935.6L1477.5 908.32M1446.5 947.5L1477.5 920.22M1446.5 959.4L1477.5 932.12M1446.5 971.3L1477.5 944.02M1446.5 983.2L1477.5 955.92M1446.5 995.1L1477.5 967.82M1446.5 1007L1477.5 979.72M1449 1016.7L1477.5 991.62M1462.52 1016.7L1477.5 1003.52M1476.05 1016.7L1477.5 1015.42" stroke="#6e6e00" stroke-width="0.8" stroke-opacity="0.9"/><rect x="1446.5" y="837" width="31" height="179.7" stroke-width="1.6"/><path d="M1446.5 1005.7H1477.5" stroke-width="1.5"/></g>
<g stroke="#FB6501" fill="none"><path d="M1521.1 1021.7V1074.2M1512.85 1074.2H1529.35" stroke-width="1.6"/><rect x="1505.6" y="964.2" width="31" height="57.5" fill="#FB6501" fill-opacity="0.33" stroke="none"/><path d="M1505.6 971.3L1513.67 964.2M1505.6 983.2L1527.19 964.2M1505.6 995.1L1536.6 967.82M1505.6 1007L1536.6 979.72M1505.6 1018.9L1536.6 991.62M1515.94 1021.7L1536.6 1003.52M1529.46 1021.7L1536.6 1015.42" stroke="#c34e00" stroke-width="0.8" stroke-opacity="0.9"/><rect x="1505.6" y="964.2" width="31" height="57.5" stroke-width="1.6"/><path d="M1505.6 1009.2H1536.6" stroke-width="1.5"/></g>
<g stroke="#6699CC" fill="none"><path d="M1580.8 979.2V964.2M1572.55 964.2H1589.05" stroke-width="1.6"/><path d="M1580.8 1021.7V1074.2M1572.55 1074.2H1589.05" stroke-width="1.6"/><rect x="1565.3" y="979.2" width="31" height="42.5" fill="#6699CC" fill-opacity="0.33" stroke="none"/><path d="M1565.3 990L1577.57 979.2M1565.3 1001.9L1591.1 979.2M1565.3 1013.8L1596.3 986.52M1569.85 1021.7L1596.3 998.42M1583.37 1021.7L1596.3 1010.32" stroke="#4f779f" stroke-width="0.8" stroke-opacity="0.9"/><rect x="1565.3" y="979.2" width="31" height="42.5" stroke-width="1.6"/><path d="M1565.3 1008.7H1596.3" stroke-width="1.5"/></g>
<g stroke="#6FB802" fill="none"><path d="M1640.2 986.7V979.2M1631.95 979.2H1648.45" stroke-width="1.6"/><path d="M1640.2 1023.2V1074.2M1631.95 1074.2H1648.45" stroke-width="1.6"/><rect x="1624.7" y="986.7" width="31" height="36.5" fill="#6FB802" fill-opacity="0.33" stroke="none"/><path d="M1624.7 989.3L1627.65 986.7M1624.7 1001.2L1641.18 986.7M1624.7 1013.1L1654.7 986.7M1626.75 1023.2L1655.7 997.72M1640.27 1023.2L1655.7 1009.62M1653.79 1023.2L1655.7 1021.52" stroke="#568f01" stroke-width="0.8" stroke-opacity="0.9"/><rect x="1624.7" y="986.7" width="31" height="36.5" stroke-width="1.6"/><path d="M1624.7 1007.5H1655.7" stroke-width="1.5"/></g>
<g stroke="#515151" fill="none"><path d="M1699.6 995V979.2M1691.35 979.2H1707.85" stroke-width="1.6"/><path d="M1699.6 1023.2V1051.7M1691.35 1051.7H1707.85" stroke-width="1.6"/><rect x="1684.1" y="995" width="31" height="28.2" fill="#515151" fill-opacity="0.33" stroke="none"/><path d="M1684.1 1001.3L1691.26 995M1684.1 1013.2L1704.78 995M1686.26 1023.2L1715.1 997.82M1699.78 1023.2L1715.1 1009.72M1713.3 1023.2L1715.1 1021.62" stroke="#3f3f3f" stroke-width="0.8" stroke-opacity="0.9"/><rect x="1684.1" y="995" width="31" height="28.2" stroke-width="1.6"/><path d="M1684.1 1006.7H1715.1" stroke-width="1.5"/></g>
<polyline points="985,980.5 1045,975.5 1104.2,977 1163.7,965.5 1223.7,962 1283,962 1342.5,951 1402,950 1461.5,946.5 1521,954.5 1580.5,970.3 1640.5,981.5 1698.7,997" fill="none" stroke="#fb0007" stroke-width="3.4" stroke-linejoin="round" stroke-linecap="round"/>
<g><circle cx="985" cy="980.5" r="1.3" fill="#515151" fill-opacity="0.75"/><circle cx="1104.2" cy="977" r="1.3" fill="#1A6FDF" fill-opacity="0.75"/><circle cx="1163.7" cy="965.5" r="1.3" fill="#37AD6B" fill-opacity="0.75"/><circle cx="1223.7" cy="962" r="1.3" fill="#B177DE" fill-opacity="0.75"/><circle cx="1283" cy="962" r="1.3" fill="#CC9900" fill-opacity="0.75"/><circle cx="1342.5" cy="951" r="1.3" fill="#00CBCC" fill-opacity="0.75"/><circle cx="1402" cy="950" r="1.3" fill="#7D4E4E" fill-opacity="0.75"/><circle cx="1461.5" cy="946.5" r="1.3" fill="#8E8E00" fill-opacity="0.75"/><circle cx="1521" cy="954.5" r="1.3" fill="#FB6501" fill-opacity="0.75"/><circle cx="1580.5" cy="970.3" r="1.3" fill="#6699CC" fill-opacity="0.75"/><circle cx="1640.5" cy="981.5" r="1.3" fill="#6FB802" fill-opacity="0.75"/><circle cx="1698.7" cy="997" r="1.3" fill="#515151" fill-opacity="0.75"/></g>
<g stroke="#000" fill="none"><path d="M955.5 619.05V1142.9" stroke-width="1.85"/><path d="M954.58 1141H1728.6" stroke-width="1.7"/><path d="M955.5 685.2H945.4M955.5 815.45H945.4M955.5 945.7H945.4M955.5 1076.05H945.4M955.5 620H949.7M955.5 750.3H949.7M955.5 880.5H949.7M955.5 1010.8H949.7M955.5 1141H949.7M985 1141V1151.7M1044.5 1141V1151.7M1104.2 1141V1151.7M1163.5 1141V1151.7M1223 1141V1151.7M1282.5 1141V1151.7M1342 1141V1151.7M1401.7 1141V1151.7M1461.5 1141V1151.7M1520.5 1141V1151.7M1580.2 1141V1151.7M1639.7 1141V1151.7M1700 1141V1151.7" stroke-width="1.9"/></g>
<text x="909.95 919.15 932.6" y="694.4" font-size="23" text-anchor="middle">0.3</text>
<text x="909.95 919.15 932.6" y="824.2" font-size="23" text-anchor="middle">0.2</text>
<text x="909.95 919.15 932.6" y="954.7" font-size="23" text-anchor="middle">0.1</text>
<text x="909.95 919.15 932.6" y="1085.4" font-size="23" text-anchor="middle">0.0</text>
<text transform="scale(0.9200,1)" x="1052.23 1064.51 1076.79 1089.08" y="1180.6" font-size="24" text-anchor="middle">2009</text>
<text transform="scale(0.9200,1)" x="1116.9 1129.18 1141.47 1153.75" y="1180.6" font-size="24" text-anchor="middle">2010</text>
<text transform="scale(0.9200,1)" x="1181.79 1194.08 1206.36 1218.64" y="1180.6" font-size="24" text-anchor="middle">2011</text>
<text transform="scale(0.9200,1)" x="1246.25 1258.53 1270.82 1283.1" y="1180.6" font-size="24" text-anchor="middle">2012</text>
<text transform="scale(0.9200,1)" x="1310.92 1323.21 1335.49 1347.77" y="1180.6" font-size="24" text-anchor="middle">2013</text>
<text transform="scale(0.9200,1)" x="1375.6 1387.88 1400.16 1412.45" y="1180.6" font-size="24" text-anchor="middle">2014</text>
<text transform="scale(0.9200,1)" x="1440.27 1452.55 1464.84 1477.12" y="1180.6" font-size="24" text-anchor="middle">2015</text>
<text transform="scale(0.9200,1)" x="1505.16 1517.45 1529.73 1542.01" y="1180.6" font-size="24" text-anchor="middle">2016</text>
<text transform="scale(0.9200,1)" x="1570.16 1582.45 1594.73 1607.01" y="1180.6" font-size="24" text-anchor="middle">2017</text>
<text transform="scale(0.9200,1)" x="1634.29 1646.58 1658.86 1671.14" y="1180.6" font-size="24" text-anchor="middle">2018</text>
<text transform="scale(0.9200,1)" x="1699.18 1711.47 1723.75 1736.03" y="1180.6" font-size="24" text-anchor="middle">2019</text>
<text transform="scale(0.9200,1)" x="1763.86 1776.14 1788.42 1800.71" y="1180.6" font-size="24" text-anchor="middle">2020</text>
<text transform="scale(0.9200,1)" x="1829.4 1841.68 1853.97 1866.25" y="1180.6" font-size="24" text-anchor="middle">2021</text>
<text transform="translate(895.6,881.4) rotate(-90) scale(0.8000,1)" x="-99 -82.5 -66 -49.5 -33 -16.5 0 16.5 33 49.5 66 82.5 99" y="0" font-size="29" text-anchor="middle">Sustainbility</text>
</g>
</svg>
</body></html>
